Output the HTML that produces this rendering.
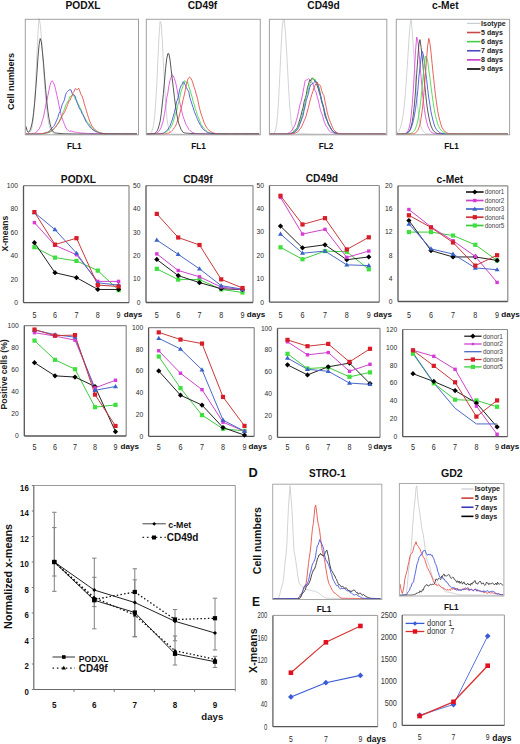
<!DOCTYPE html>
<html><head><meta charset="utf-8"><style>
html,body{margin:0;padding:0;background:#fff;}
svg{display:block;}
text{font-family:"Liberation Sans",sans-serif;}
</style></head><body>
<svg width="520" height="744" viewBox="0 0 520 744">
<rect x="0" y="0" width="520" height="744" fill="#fff"/>
<text x="83.00" y="8.90" font-size="10.2" text-anchor="middle" font-weight="bold" fill="#111" >PODXL</text>
<text x="74.30" y="148.50" font-size="8.2" text-anchor="middle" font-weight="bold" fill="#111" >FL1</text>
<text x="202.50" y="8.90" font-size="10.2" text-anchor="middle" font-weight="bold" fill="#111" >CD49f</text>
<text x="198.60" y="148.50" font-size="8.2" text-anchor="middle" font-weight="bold" fill="#111" >FL1</text>
<text x="323.50" y="8.90" font-size="10.2" text-anchor="middle" font-weight="bold" fill="#111" >CD49d</text>
<text x="326.00" y="148.50" font-size="8.2" text-anchor="middle" font-weight="bold" fill="#111" >FL2</text>
<text x="445.30" y="8.90" font-size="10.2" text-anchor="middle" font-weight="bold" fill="#111" >c-Met</text>
<text x="451.50" y="148.50" font-size="8.2" text-anchor="middle" font-weight="bold" fill="#111" >FL1</text>
<polyline points="25.90,134.08 27.00,134.04 28.10,133.90 29.20,133.51 30.30,132.51 31.40,130.13 32.50,125.42 33.60,116.30 34.70,101.59 35.80,80.33 36.90,55.24 38.00,31.84 39.10,18.45 40.20,24.01 41.30,36.07 42.40,52.07 43.50,68.45 44.60,84.68 45.70,99.04 46.80,110.43 47.90,118.95 49.00,124.74 50.10,128.65 51.20,130.95 52.30,132.43 53.40,133.24 54.50,133.67 55.60,133.90 56.70,134.01 57.80,134.06 58.90,134.08 60.00,134.09 61.10,134.10 62.20,134.10 63.30,134.10 64.40,134.10 65.50,134.10 66.60,134.10 67.70,134.10 68.80,134.10 69.90,134.10 71.00,134.10 72.10,134.10 73.20,134.10 74.30,134.10 75.40,134.10 76.50,134.10 77.60,134.10 78.70,134.10 79.80,134.10 80.90,134.10 82.00,134.10 83.10,134.10 84.20,134.10 85.30,134.10 86.40,134.10 87.50,134.10 88.60,134.10 89.70,134.10 90.80,134.10 91.90,134.10 93.00,134.10 94.10,134.10 95.20,134.10 96.30,134.10 97.40,134.10 98.50,134.10 99.60,134.10 100.70,134.10 101.80,134.10 102.90,134.10 104.00,134.10 105.10,134.10 106.20,134.10 107.30,134.10 108.40,134.10 109.50,134.10 110.60,134.10 111.70,134.10 112.80,134.10 113.90,134.10 115.00,134.10 116.10,134.10 117.20,134.10 118.30,134.10 119.40,134.10 120.50,134.10 121.60,134.10 122.70,134.10 123.80,134.10 124.90,134.10 126.00,134.10 127.10,134.10 128.20,134.10 129.30,134.10 130.40,134.10 131.50,134.10 132.60,134.10 133.70,134.10 134.80,134.10 135.90,134.10 137.00,134.10" fill="none" stroke="#c4c8cc" stroke-width="0.8" stroke-linejoin="round" />
<polyline points="25.90,134.09 27.00,134.08 28.10,134.06 29.20,134.02 30.30,133.96 31.40,133.87 32.50,133.71 33.60,133.47 34.70,133.09 35.80,132.52 36.90,131.47 38.00,130.49 39.10,128.94 40.20,126.78 41.30,124.65 42.40,120.41 43.50,117.11 44.60,111.15 45.70,105.70 46.80,100.82 47.90,95.58 49.00,90.10 50.10,85.13 51.20,81.74 52.30,80.73 53.40,82.60 54.50,85.10 55.60,89.48 56.70,94.54 57.80,99.31 58.90,104.90 60.00,109.78 61.10,115.07 62.20,118.36 63.30,121.41 64.40,124.31 65.50,126.83 66.60,129.01 67.70,130.21 68.80,130.84 69.90,131.45 71.00,130.90 72.10,131.28 73.20,131.78 74.30,132.06 75.40,132.23 76.50,132.29 77.60,132.59 78.70,132.70 79.80,132.71 80.90,133.18 82.00,133.09 83.10,133.09 84.20,133.18 85.30,133.26 86.40,133.33 87.50,133.40 88.60,133.46 89.70,133.52 90.80,133.57 91.90,133.61 93.00,133.66 94.10,133.70 95.20,133.73 96.30,133.76 97.40,133.79 98.50,133.82 99.60,133.84 100.70,133.87 101.80,133.89 102.90,133.91 104.00,133.92 105.10,133.94 106.20,133.95 107.30,133.97 108.40,133.98 109.50,133.99 110.60,134.00 111.70,134.01 112.80,134.01 113.90,134.02 115.00,134.03 116.10,134.04 117.20,134.04 118.30,134.05 119.40,134.05 120.50,134.06 121.60,134.06 122.70,134.06 123.80,134.07 124.90,134.07 126.00,134.07 127.10,134.07 128.20,134.08 129.30,134.08 130.40,134.08 131.50,134.08 132.60,134.08 133.70,134.09 134.80,134.09 135.90,134.09 137.00,134.09" fill="none" stroke="#da50da" stroke-width="0.9" stroke-linejoin="round" />
<polyline points="25.90,134.10 27.00,134.10 28.10,134.10 29.20,134.10 30.30,134.10 31.40,134.10 32.50,134.09 33.60,134.09 34.70,134.08 35.80,134.08 36.90,134.06 38.00,134.05 39.10,134.02 40.20,133.99 41.30,133.94 42.40,133.87 43.50,133.77 44.60,133.65 45.70,133.47 46.80,133.27 47.90,132.86 49.00,132.69 50.10,132.12 51.20,131.49 52.30,131.00 53.40,129.75 54.50,127.98 55.60,127.00 56.70,124.98 57.80,123.99 58.90,121.92 60.00,119.21 61.10,116.87 62.20,114.64 63.30,111.53 64.40,109.32 65.50,105.80 66.60,103.66 67.70,101.65 68.80,99.77 69.90,96.64 71.00,96.52 72.10,94.69 73.20,95.57 74.30,96.11 75.40,99.59 76.50,100.18 77.60,102.76 78.70,104.91 79.80,107.27 80.90,109.26 82.00,111.97 83.10,115.11 84.20,116.54 85.30,118.70 86.40,120.84 87.50,122.17 88.60,123.33 89.70,125.01 90.80,126.91 91.90,127.37 93.00,128.59 94.10,129.93 95.20,130.71 96.30,131.19 97.40,131.86 98.50,132.22 99.60,132.40 100.70,132.64 101.80,133.02 102.90,133.34 104.00,133.51 105.10,133.64 106.20,133.75 107.30,133.83 108.40,133.90 109.50,133.95 110.60,133.99 111.70,134.02 112.80,134.04 113.90,134.05 115.00,134.07 116.10,134.08 117.20,134.08 118.30,134.09 119.40,134.09 120.50,134.09 121.60,134.10 122.70,134.10 123.80,134.10 124.90,134.10 126.00,134.10 127.10,134.10 128.20,134.10 129.30,134.10 130.40,134.10 131.50,134.10 132.60,134.10 133.70,134.10 134.80,134.10 135.90,134.10 137.00,134.10" fill="none" stroke="#4cd84c" stroke-width="0.9" stroke-linejoin="round" />
<polyline points="25.90,134.10 27.00,134.10 28.10,134.10 29.20,134.10 30.30,134.09 31.40,134.09 32.50,134.08 33.60,134.07 34.70,134.06 35.80,134.04 36.90,134.01 38.00,133.97 39.10,133.92 40.20,133.84 41.30,133.74 42.40,133.59 43.50,133.40 44.60,133.17 45.70,132.70 46.80,132.22 47.90,132.25 49.00,131.45 50.10,130.47 51.20,128.56 52.30,127.93 53.40,126.52 54.50,125.19 55.60,122.77 56.70,120.13 57.80,117.70 58.90,113.61 60.00,111.81 61.10,108.47 62.20,104.49 63.30,102.38 64.40,99.86 65.50,94.85 66.60,92.47 67.70,91.33 68.80,90.27 69.90,89.72 71.00,89.91 72.10,93.39 73.20,94.66 74.30,94.96 75.40,96.82 76.50,101.30 77.60,103.77 78.70,106.89 79.80,108.98 80.90,110.51 82.00,113.46 83.10,114.73 84.20,117.50 85.30,120.01 86.40,122.24 87.50,123.54 88.60,125.25 89.70,126.84 90.80,128.05 91.90,129.16 93.00,129.95 94.10,130.58 95.20,131.43 96.30,131.86 97.40,132.16 98.50,132.54 99.60,132.94 100.70,133.19 101.80,133.40 102.90,133.56 104.00,133.69 105.10,133.78 106.20,133.86 107.30,133.92 108.40,133.97 109.50,134.00 110.60,134.03 111.70,134.05 112.80,134.06 113.90,134.07 115.00,134.08 116.10,134.09 117.20,134.09 118.30,134.09 119.40,134.09 120.50,134.10 121.60,134.10 122.70,134.10 123.80,134.10 124.90,134.10 126.00,134.10 127.10,134.10 128.20,134.10 129.30,134.10 130.40,134.10 131.50,134.10 132.60,134.10 133.70,134.10 134.80,134.10 135.90,134.10 137.00,134.10" fill="none" stroke="#4656da" stroke-width="0.9" stroke-linejoin="round" />
<polyline points="25.90,134.09 27.00,134.09 28.10,134.08 29.20,134.08 30.30,134.07 31.40,134.06 32.50,134.05 33.60,134.03 34.70,134.00 35.80,133.97 36.90,133.93 38.00,133.88 39.10,133.82 40.20,133.73 41.30,133.63 42.40,133.49 43.50,133.33 44.60,133.12 45.70,132.92 46.80,132.74 47.90,132.37 49.00,131.80 50.10,131.41 51.20,130.77 52.30,129.97 53.40,129.07 54.50,127.99 55.60,127.13 56.70,125.35 57.80,123.93 58.90,122.57 60.00,120.23 61.10,118.61 62.20,115.81 63.30,114.05 64.40,112.45 65.50,110.17 66.60,107.31 67.70,104.55 68.80,101.16 69.90,100.65 71.00,97.78 72.10,95.88 73.20,92.49 74.30,91.02 75.40,88.46 76.50,89.34 77.60,89.51 78.70,88.24 79.80,91.09 80.90,94.37 82.00,95.92 83.10,99.11 84.20,103.26 85.30,107.35 86.40,110.61 87.50,114.74 88.60,118.10 89.70,121.11 90.80,123.62 91.90,126.02 93.00,127.71 94.10,128.49 95.20,129.83 96.30,130.73 97.40,131.53 98.50,132.32 99.60,132.83 100.70,133.24 101.80,133.45 102.90,133.65 104.00,133.78 105.10,133.88 106.20,133.95 107.30,134.00 108.40,134.04 109.50,134.06 110.60,134.07 111.70,134.08 112.80,134.09 113.90,134.09 115.00,134.10 116.10,134.10 117.20,134.10 118.30,134.10 119.40,134.10 120.50,134.10 121.60,134.10 122.70,134.10 123.80,134.10 124.90,134.10 126.00,134.10 127.10,134.10 128.20,134.10 129.30,134.10 130.40,134.10 131.50,134.10 132.60,134.10 133.70,134.10 134.80,134.10 135.90,134.10 137.00,134.10" fill="none" stroke="#e65048" stroke-width="0.9" stroke-linejoin="round" />
<polyline points="25.90,126.21 27.00,130.36 28.10,132.32 29.20,131.66 30.30,129.62 31.40,126.00 32.50,121.07 33.60,112.66 34.70,102.21 35.80,88.52 36.90,73.70 38.00,56.85 39.10,44.67 40.20,38.56 41.30,41.59 42.40,51.41 43.50,62.78 44.60,76.63 45.70,89.71 46.80,101.53 47.90,111.15 49.00,118.52 50.10,124.16 51.20,127.75 52.30,130.53 53.40,131.93 54.50,132.78 55.60,132.95 56.70,133.10 57.80,133.23 58.90,133.34 60.00,133.44 61.10,133.52 62.20,133.60 63.30,133.66 64.40,133.72 65.50,133.77 66.60,133.81 67.70,133.85 68.80,133.88 69.90,133.91 71.00,133.93 72.10,133.95 73.20,133.97 74.30,133.99 75.40,134.00 76.50,134.02 77.60,134.03 78.70,134.04 79.80,134.04 80.90,134.05 82.00,134.06 83.10,134.06 84.20,134.07 85.30,134.07 86.40,134.08 87.50,134.08 88.60,134.08 89.70,134.08 90.80,134.09 91.90,134.09 93.00,134.09 94.10,134.09 95.20,134.09 96.30,134.09 97.40,134.09 98.50,134.09 99.60,134.10 100.70,134.10 101.80,134.10 102.90,134.10 104.00,134.10 105.10,134.10 106.20,134.10 107.30,134.10 108.40,134.10 109.50,134.10 110.60,134.10 111.70,134.10 112.80,134.10 113.90,134.10 115.00,134.10 116.10,134.10 117.20,134.10 118.30,134.10 119.40,134.10 120.50,134.10 121.60,134.10 122.70,134.10 123.80,134.10 124.90,134.10 126.00,134.10 127.10,134.10 128.20,134.10 129.30,134.10 130.40,134.10 131.50,134.10 132.60,134.10 133.70,134.10 134.80,134.10 135.90,134.10 137.00,134.10" fill="none" stroke="#444" stroke-width="0.9" stroke-linejoin="round" />
<polyline points="146.90,134.08 148.00,134.03 149.10,133.88 150.20,133.47 151.30,132.47 152.40,130.08 153.50,125.54 154.60,116.91 155.70,103.03 156.80,83.86 157.90,59.62 159.00,36.59 160.10,21.24 161.20,23.45 162.30,40.16 163.40,62.26 164.50,83.95 165.60,102.66 166.70,116.04 167.80,124.39 168.90,129.35 170.00,131.95 171.10,133.20 172.20,133.75 173.30,133.97 174.40,134.06 175.50,134.09 176.60,134.10 177.70,134.10 178.80,134.10 179.90,134.10 181.00,134.10 182.10,134.10 183.20,134.10 184.30,134.10 185.40,134.10 186.50,134.10 187.60,134.10 188.70,134.10 189.80,134.10 190.90,134.10 192.00,134.10 193.10,134.10 194.20,134.10 195.30,134.10 196.40,134.10 197.50,134.10 198.60,134.10 199.70,134.10 200.80,134.10 201.90,134.10 203.00,134.10 204.10,134.10 205.20,134.10 206.30,134.10 207.40,134.10 208.50,134.10 209.60,134.10 210.70,134.10 211.80,134.10 212.90,134.10 214.00,134.10 215.10,134.10 216.20,134.10 217.30,134.10 218.40,134.10 219.50,134.10 220.60,134.10 221.70,134.10 222.80,134.10 223.90,134.10 225.00,134.10 226.10,134.10 227.20,134.10 228.30,134.10 229.40,134.10 230.50,134.10 231.60,134.10 232.70,134.10 233.80,134.10 234.90,134.10 236.00,134.10 237.10,134.10 238.20,134.10 239.30,134.10 240.40,134.10 241.50,134.10 242.60,134.10 243.70,134.10 244.80,134.10 245.90,134.10 247.00,134.10 248.10,134.10 249.20,134.10 250.30,134.10 251.40,134.10 252.50,134.10 253.60,134.10 254.70,134.10 255.80,134.10 256.90,134.10 258.00,134.10 259.10,134.10" fill="none" stroke="#c4c8cc" stroke-width="0.8" stroke-linejoin="round" />
<polyline points="146.90,134.10 148.00,134.09 149.10,134.08 150.20,134.07 151.30,134.04 152.40,133.98 153.50,133.88 154.60,133.71 155.70,133.41 156.80,132.93 157.90,132.62 159.00,131.17 160.10,129.41 161.20,127.21 162.30,123.83 163.40,120.13 164.50,113.53 165.60,107.32 166.70,98.14 167.80,93.14 168.90,85.56 170.00,80.41 171.10,77.54 172.20,74.82 173.30,75.83 174.40,78.46 175.50,82.10 176.60,86.90 177.70,92.97 178.80,97.92 179.90,103.02 181.00,107.74 182.10,112.81 183.20,116.69 184.30,119.87 185.40,123.14 186.50,125.39 187.60,127.10 188.70,129.41 189.80,130.55 190.90,131.24 192.00,132.30 193.10,132.79 194.20,133.14 195.30,133.44 196.40,133.58 197.50,133.64 198.60,133.69 199.70,133.73 200.80,133.77 201.90,133.80 203.00,133.83 204.10,133.86 205.20,133.89 206.30,133.91 207.40,133.93 208.50,133.95 209.60,133.96 210.70,133.98 211.80,133.99 212.90,134.00 214.00,134.01 215.10,134.02 216.20,134.03 217.30,134.04 218.40,134.04 219.50,134.05 220.60,134.05 221.70,134.06 222.80,134.06 223.90,134.07 225.00,134.07 226.10,134.07 227.20,134.08 228.30,134.08 229.40,134.08 230.50,134.08 231.60,134.08 232.70,134.09 233.80,134.09 234.90,134.09 236.00,134.09 237.10,134.09 238.20,134.09 239.30,134.09 240.40,134.09 241.50,134.09 242.60,134.09 243.70,134.10 244.80,134.10 245.90,134.10 247.00,134.10 248.10,134.10 249.20,134.10 250.30,134.10 251.40,134.10 252.50,134.10 253.60,134.10 254.70,134.10 255.80,134.10 256.90,134.10 258.00,134.10 259.10,134.10" fill="none" stroke="#da50da" stroke-width="0.9" stroke-linejoin="round" />
<polyline points="146.90,134.10 148.00,134.10 149.10,134.10 150.20,134.10 151.30,134.09 152.40,134.09 153.50,134.08 154.60,134.07 155.70,134.05 156.80,134.02 157.90,133.98 159.00,133.92 160.10,133.83 161.20,133.69 162.30,133.50 163.40,133.22 164.50,132.69 165.60,132.22 166.70,131.60 167.80,130.56 168.90,129.53 170.00,128.33 171.10,126.75 172.20,124.85 173.30,121.08 174.40,117.85 175.50,112.94 176.60,111.47 177.70,105.87 178.80,101.56 179.90,97.48 181.00,91.48 182.10,88.73 183.20,85.12 184.30,80.77 185.40,81.27 186.50,83.00 187.60,81.81 188.70,86.35 189.80,89.25 190.90,92.98 192.00,96.79 193.10,101.42 194.20,104.27 195.30,108.70 196.40,111.56 197.50,115.51 198.60,117.79 199.70,120.78 200.80,124.08 201.90,125.70 203.00,127.13 204.10,128.22 205.20,129.51 206.30,130.78 207.40,131.78 208.50,132.31 209.60,132.78 210.70,133.05 211.80,133.33 212.90,133.54 214.00,133.70 215.10,133.82 216.20,133.90 217.30,133.96 218.40,134.01 219.50,134.04 220.60,134.06 221.70,134.07 222.80,134.08 223.90,134.09 225.00,134.09 226.10,134.09 227.20,134.10 228.30,134.10 229.40,134.10 230.50,134.10 231.60,134.10 232.70,134.10 233.80,134.10 234.90,134.10 236.00,134.10 237.10,134.10 238.20,134.10 239.30,134.10 240.40,134.10 241.50,134.10 242.60,134.10 243.70,134.10 244.80,134.10 245.90,134.10 247.00,134.10 248.10,134.10 249.20,134.10 250.30,134.10 251.40,134.10 252.50,134.10 253.60,134.10 254.70,134.10 255.80,134.10 256.90,134.10 258.00,134.10 259.10,134.10" fill="none" stroke="#4cd84c" stroke-width="0.9" stroke-linejoin="round" />
<polyline points="146.90,134.10 148.00,134.10 149.10,134.10 150.20,134.10 151.30,134.09 152.40,134.09 153.50,134.08 154.60,134.07 155.70,134.05 156.80,134.01 157.90,133.96 159.00,133.88 160.10,133.75 161.20,133.57 162.30,133.30 163.40,133.32 164.50,132.32 165.60,131.58 166.70,130.68 167.80,129.68 168.90,127.67 170.00,126.13 171.10,122.87 172.20,120.14 173.30,116.19 174.40,112.46 175.50,107.46 176.60,101.84 177.70,98.95 178.80,94.01 179.90,88.88 181.00,85.87 182.10,84.31 183.20,81.63 184.30,82.89 185.40,85.28 186.50,87.73 187.60,89.81 188.70,91.35 189.80,97.47 190.90,100.81 192.00,104.15 193.10,107.46 194.20,111.20 195.30,114.03 196.40,116.59 197.50,119.38 198.60,121.89 199.70,124.01 200.80,125.63 201.90,127.82 203.00,128.59 204.10,130.17 205.20,130.70 206.30,131.68 207.40,132.49 208.50,132.75 209.60,132.93 210.70,133.30 211.80,133.51 212.90,133.67 214.00,133.79 215.10,133.87 216.20,133.94 217.30,133.99 218.40,134.02 219.50,134.05 220.60,134.06 221.70,134.07 222.80,134.08 223.90,134.09 225.00,134.09 226.10,134.10 227.20,134.10 228.30,134.10 229.40,134.10 230.50,134.10 231.60,134.10 232.70,134.10 233.80,134.10 234.90,134.10 236.00,134.10 237.10,134.10 238.20,134.10 239.30,134.10 240.40,134.10 241.50,134.10 242.60,134.10 243.70,134.10 244.80,134.10 245.90,134.10 247.00,134.10 248.10,134.10 249.20,134.10 250.30,134.10 251.40,134.10 252.50,134.10 253.60,134.10 254.70,134.10 255.80,134.10 256.90,134.10 258.00,134.10 259.10,134.10" fill="none" stroke="#4656da" stroke-width="0.9" stroke-linejoin="round" />
<polyline points="146.90,134.10 148.00,134.10 149.10,134.10 150.20,134.10 151.30,134.10 152.40,134.10 153.50,134.10 154.60,134.10 155.70,134.09 156.80,134.09 157.90,134.08 159.00,134.07 160.10,134.05 161.20,134.02 162.30,133.97 163.40,133.91 164.50,133.81 165.60,133.66 166.70,133.46 167.80,133.17 168.90,133.06 170.00,132.60 171.10,131.45 172.20,130.35 173.30,129.30 174.40,127.49 175.50,126.13 176.60,123.40 177.70,120.02 178.80,117.66 179.90,113.12 181.00,109.15 182.10,104.47 183.20,99.42 184.30,94.94 185.40,89.52 186.50,84.09 187.60,79.86 188.70,77.84 189.80,77.08 190.90,78.40 192.00,80.54 193.10,83.90 194.20,87.24 195.30,90.60 196.40,94.96 197.50,98.52 198.60,104.11 199.70,108.96 200.80,113.03 201.90,116.30 203.00,119.42 204.10,122.64 205.20,124.74 206.30,126.92 207.40,128.54 208.50,129.76 209.60,131.04 210.70,131.54 211.80,132.19 212.90,132.63 214.00,133.13 215.10,133.41 216.20,133.62 217.30,133.76 218.40,133.87 219.50,133.94 220.60,134.00 221.70,134.03 222.80,134.05 223.90,134.07 225.00,134.08 226.10,134.09 227.20,134.09 228.30,134.10 229.40,134.10 230.50,134.10 231.60,134.10 232.70,134.10 233.80,134.10 234.90,134.10 236.00,134.10 237.10,134.10 238.20,134.10 239.30,134.10 240.40,134.10 241.50,134.10 242.60,134.10 243.70,134.10 244.80,134.10 245.90,134.10 247.00,134.10 248.10,134.10 249.20,134.10 250.30,134.10 251.40,134.10 252.50,134.10 253.60,134.10 254.70,134.10 255.80,134.10 256.90,134.10 258.00,134.10 259.10,134.10" fill="none" stroke="#e65048" stroke-width="0.9" stroke-linejoin="round" />
<polyline points="146.90,134.10 148.00,134.09 149.10,134.09 150.20,134.07 151.30,134.02 152.40,133.92 153.50,133.73 154.60,133.34 155.70,132.63 156.80,131.40 157.90,129.34 159.00,125.75 160.10,121.43 161.20,113.89 162.30,103.98 163.40,93.52 164.50,80.97 165.60,68.51 166.70,58.78 167.80,53.64 168.90,53.69 170.00,59.84 171.10,69.25 172.20,78.41 173.30,87.69 174.40,97.27 175.50,105.71 176.60,113.02 177.70,119.23 178.80,123.58 179.90,126.39 181.00,129.34 182.10,130.98 183.20,132.33 184.30,132.82 185.40,132.98 186.50,133.13 187.60,133.25 188.70,133.36 189.80,133.45 190.90,133.54 192.00,133.61 193.10,133.67 194.20,133.73 195.30,133.78 196.40,133.82 197.50,133.85 198.60,133.89 199.70,133.91 200.80,133.94 201.90,133.96 203.00,133.98 204.10,133.99 205.20,134.01 206.30,134.02 207.40,134.03 208.50,134.04 209.60,134.05 210.70,134.05 211.80,134.06 212.90,134.06 214.00,134.07 215.10,134.07 216.20,134.08 217.30,134.08 218.40,134.08 219.50,134.08 220.60,134.09 221.70,134.09 222.80,134.09 223.90,134.09 225.00,134.09 226.10,134.09 227.20,134.09 228.30,134.09 229.40,134.10 230.50,134.10 231.60,134.10 232.70,134.10 233.80,134.10 234.90,134.10 236.00,134.10 237.10,134.10 238.20,134.10 239.30,134.10 240.40,134.10 241.50,134.10 242.60,134.10 243.70,134.10 244.80,134.10 245.90,134.10 247.00,134.10 248.10,134.10 249.20,134.10 250.30,134.10 251.40,134.10 252.50,134.10 253.60,134.10 254.70,134.10 255.80,134.10 256.90,134.10 258.00,134.10 259.10,134.10" fill="none" stroke="#444" stroke-width="0.9" stroke-linejoin="round" />
<polyline points="270.00,134.10 271.10,134.08 272.20,134.00 273.30,133.72 274.40,132.81 275.50,130.33 276.60,124.79 277.70,113.92 278.80,96.67 279.90,73.29 281.00,48.96 282.10,28.86 283.20,19.62 284.30,19.92 285.40,32.05 286.50,49.34 287.60,69.48 288.70,90.26 289.80,107.11 290.90,119.16 292.00,126.35 293.10,130.75 294.20,132.59 295.30,132.78 296.40,132.95 297.50,133.10 298.60,133.23 299.70,133.34 300.80,133.44 301.90,133.52 303.00,133.60 304.10,133.66 305.20,133.72 306.30,133.77 307.40,133.81 308.50,133.85 309.60,133.88 310.70,133.91 311.80,133.93 312.90,133.95 314.00,133.97 315.10,133.99 316.20,134.00 317.30,134.02 318.40,134.03 319.50,134.04 320.60,134.04 321.70,134.05 322.80,134.06 323.90,134.06 325.00,134.07 326.10,134.07 327.20,134.08 328.30,134.08 329.40,134.08 330.50,134.08 331.60,134.09 332.70,134.09 333.80,134.09 334.90,134.09 336.00,134.09 337.10,134.09 338.20,134.09 339.30,134.09 340.40,134.10 341.50,134.10 342.60,134.10 343.70,134.10 344.80,134.10 345.90,134.10 347.00,134.10 348.10,134.10 349.20,134.10 350.30,134.10 351.40,134.10 352.50,134.10 353.60,134.10 354.70,134.10 355.80,134.10 356.90,134.10 358.00,134.10 359.10,134.10 360.20,134.10 361.30,134.10 362.40,134.10 363.50,134.10 364.60,134.10 365.70,134.10 366.80,134.10 367.90,134.10 369.00,134.10 370.10,134.10 371.20,134.10 372.30,134.10 373.40,134.10 374.50,134.10 375.60,134.10 376.70,134.10 377.80,134.10 378.90,134.10 380.00,134.10 381.10,134.10 382.20,134.10 383.30,134.10 384.40,134.10 385.50,134.10" fill="none" stroke="#c4c8cc" stroke-width="0.8" stroke-linejoin="round" />
<polyline points="270.00,134.10 271.10,134.10 272.20,134.10 273.30,134.10 274.40,134.10 275.50,134.10 276.60,134.10 277.70,134.10 278.80,134.09 279.90,134.09 281.00,134.08 282.10,134.06 283.20,134.03 284.30,133.97 285.40,133.87 286.50,133.71 287.60,133.46 288.70,133.07 289.80,132.57 290.90,131.31 292.00,130.22 293.10,128.59 294.20,126.27 295.30,124.12 296.40,120.33 297.50,116.25 298.60,111.46 299.70,105.63 300.80,102.17 301.90,97.94 303.00,92.12 304.10,86.29 305.20,80.45 306.30,80.04 307.40,79.89 308.50,78.65 309.60,79.43 310.70,81.06 311.80,82.49 312.90,83.23 314.00,87.35 315.10,90.77 316.20,92.54 317.30,97.28 318.40,100.82 319.50,105.92 320.60,110.60 321.70,113.44 322.80,116.22 323.90,121.03 325.00,123.55 326.10,126.25 327.20,127.17 328.30,129.38 329.40,130.98 330.50,131.93 331.60,132.19 332.70,132.76 333.80,133.13 334.90,133.44 336.00,133.66 337.10,133.81 338.20,133.91 339.30,133.98 340.40,134.02 341.50,134.05 342.60,134.07 343.70,134.08 344.80,134.09 345.90,134.09 347.00,134.10 348.10,134.10 349.20,134.10 350.30,134.10 351.40,134.10 352.50,134.10 353.60,134.10 354.70,134.10 355.80,134.10 356.90,134.10 358.00,134.10 359.10,134.10 360.20,134.10 361.30,134.10 362.40,134.10 363.50,134.10 364.60,134.10 365.70,134.10 366.80,134.10 367.90,134.10 369.00,134.10 370.10,134.10 371.20,134.10 372.30,134.10 373.40,134.10 374.50,134.10 375.60,134.10 376.70,134.10 377.80,134.10 378.90,134.10 380.00,134.10 381.10,134.10 382.20,134.10 383.30,134.10 384.40,134.10 385.50,134.10" fill="none" stroke="#da50da" stroke-width="0.9" stroke-linejoin="round" />
<polyline points="270.00,134.10 271.10,134.10 272.20,134.10 273.30,134.10 274.40,134.10 275.50,134.10 276.60,134.10 277.70,134.10 278.80,134.10 279.90,134.10 281.00,134.10 282.10,134.09 283.20,134.08 284.30,134.07 285.40,134.04 286.50,133.99 287.60,133.92 288.70,133.80 289.80,133.60 290.90,133.31 292.00,132.87 293.10,132.32 294.20,131.70 295.30,129.93 296.40,128.80 297.50,127.20 298.60,123.39 299.70,120.01 300.80,116.22 301.90,111.40 303.00,108.17 304.10,101.84 305.20,98.42 306.30,94.80 307.40,87.81 308.50,84.63 309.60,80.11 310.70,80.44 311.80,78.29 312.90,78.43 314.00,79.44 315.10,81.45 316.20,82.87 317.30,85.99 318.40,89.03 319.50,93.51 320.60,96.78 321.70,102.03 322.80,105.08 323.90,110.13 325.00,115.72 326.10,118.45 327.20,120.78 328.30,124.10 329.40,126.00 330.50,127.63 331.60,129.44 332.70,131.07 333.80,131.95 334.90,132.52 336.00,133.02 337.10,133.37 338.20,133.62 339.30,133.79 340.40,133.90 341.50,133.98 342.60,134.03 343.70,134.06 344.80,134.07 345.90,134.09 347.00,134.09 348.10,134.10 349.20,134.10 350.30,134.10 351.40,134.10 352.50,134.10 353.60,134.10 354.70,134.10 355.80,134.10 356.90,134.10 358.00,134.10 359.10,134.10 360.20,134.10 361.30,134.10 362.40,134.10 363.50,134.10 364.60,134.10 365.70,134.10 366.80,134.10 367.90,134.10 369.00,134.10 370.10,134.10 371.20,134.10 372.30,134.10 373.40,134.10 374.50,134.10 375.60,134.10 376.70,134.10 377.80,134.10 378.90,134.10 380.00,134.10 381.10,134.10 382.20,134.10 383.30,134.10 384.40,134.10 385.50,134.10" fill="none" stroke="#444" stroke-width="0.9" stroke-linejoin="round" />
<polyline points="270.00,134.10 271.10,134.10 272.20,134.10 273.30,134.10 274.40,134.10 275.50,134.10 276.60,134.10 277.70,134.10 278.80,134.10 279.90,134.10 281.00,134.10 282.10,134.09 283.20,134.09 284.30,134.08 285.40,134.06 286.50,134.03 287.60,133.98 288.70,133.90 289.80,133.77 290.90,133.56 292.00,133.24 293.10,132.43 294.20,131.90 295.30,130.91 296.40,130.02 297.50,127.66 298.60,125.59 299.70,123.06 300.80,119.80 301.90,116.77 303.00,111.78 304.10,107.93 305.20,101.36 306.30,95.67 307.40,93.37 308.50,88.86 309.60,85.18 310.70,81.95 311.80,80.33 312.90,77.74 314.00,79.66 315.10,79.34 316.20,82.34 317.30,84.20 318.40,85.33 319.50,89.46 320.60,95.93 321.70,99.75 322.80,103.98 323.90,108.85 325.00,112.69 326.10,116.44 327.20,120.22 328.30,123.28 329.40,126.35 330.50,127.91 331.60,130.03 332.70,131.29 333.80,132.18 334.90,132.71 336.00,133.04 337.10,133.35 338.20,133.62 339.30,133.79 340.40,133.91 341.50,133.98 342.60,134.03 343.70,134.06 344.80,134.08 345.90,134.09 347.00,134.09 348.10,134.10 349.20,134.10 350.30,134.10 351.40,134.10 352.50,134.10 353.60,134.10 354.70,134.10 355.80,134.10 356.90,134.10 358.00,134.10 359.10,134.10 360.20,134.10 361.30,134.10 362.40,134.10 363.50,134.10 364.60,134.10 365.70,134.10 366.80,134.10 367.90,134.10 369.00,134.10 370.10,134.10 371.20,134.10 372.30,134.10 373.40,134.10 374.50,134.10 375.60,134.10 376.70,134.10 377.80,134.10 378.90,134.10 380.00,134.10 381.10,134.10 382.20,134.10 383.30,134.10 384.40,134.10 385.50,134.10" fill="none" stroke="#4cd84c" stroke-width="0.9" stroke-linejoin="round" />
<polyline points="270.00,134.10 271.10,134.10 272.20,134.10 273.30,134.10 274.40,134.10 275.50,134.10 276.60,134.10 277.70,134.10 278.80,134.10 279.90,134.10 281.00,134.10 282.10,134.10 283.20,134.09 284.30,134.08 285.40,134.07 286.50,134.04 287.60,134.00 288.70,133.93 289.80,133.82 290.90,133.65 292.00,133.39 293.10,133.06 294.20,132.61 295.30,131.29 296.40,130.98 297.50,129.43 298.60,127.70 299.70,124.39 300.80,121.82 301.90,118.75 303.00,115.88 304.10,110.29 305.20,105.85 306.30,100.29 307.40,96.92 308.50,93.35 309.60,87.73 310.70,85.12 311.80,83.87 312.90,83.64 314.00,82.33 315.10,81.40 316.20,81.37 317.30,83.41 318.40,86.55 319.50,90.94 320.60,95.04 321.70,100.92 322.80,104.65 323.90,108.07 325.00,113.94 326.10,117.76 327.20,120.78 328.30,123.35 329.40,125.40 330.50,127.77 331.60,130.06 332.70,130.96 333.80,131.76 334.90,132.70 336.00,133.19 337.10,133.52 338.20,133.74 339.30,133.88 340.40,133.97 341.50,134.02 342.60,134.06 343.70,134.08 344.80,134.09 345.90,134.09 347.00,134.10 348.10,134.10 349.20,134.10 350.30,134.10 351.40,134.10 352.50,134.10 353.60,134.10 354.70,134.10 355.80,134.10 356.90,134.10 358.00,134.10 359.10,134.10 360.20,134.10 361.30,134.10 362.40,134.10 363.50,134.10 364.60,134.10 365.70,134.10 366.80,134.10 367.90,134.10 369.00,134.10 370.10,134.10 371.20,134.10 372.30,134.10 373.40,134.10 374.50,134.10 375.60,134.10 376.70,134.10 377.80,134.10 378.90,134.10 380.00,134.10 381.10,134.10 382.20,134.10 383.30,134.10 384.40,134.10 385.50,134.10" fill="none" stroke="#4656da" stroke-width="0.9" stroke-linejoin="round" />
<polyline points="270.00,134.10 271.10,134.10 272.20,134.10 273.30,134.10 274.40,134.10 275.50,134.10 276.60,134.10 277.70,134.10 278.80,134.10 279.90,134.10 281.00,134.10 282.10,134.10 283.20,134.10 284.30,134.09 285.40,134.09 286.50,134.08 287.60,134.06 288.70,134.04 289.80,134.00 290.90,133.93 292.00,133.83 293.10,133.67 294.20,133.43 295.30,133.10 296.40,132.61 297.50,132.00 298.60,131.10 299.70,129.23 300.80,128.12 301.90,126.17 303.00,123.53 304.10,120.90 305.20,118.61 306.30,115.20 307.40,111.00 308.50,107.21 309.60,102.21 310.70,98.40 311.80,94.49 312.90,91.38 314.00,87.85 315.10,85.28 316.20,83.62 317.30,82.26 318.40,84.95 319.50,84.62 320.60,86.17 321.70,90.72 322.80,93.86 323.90,95.49 325.00,101.59 326.10,106.76 327.20,112.21 328.30,116.30 329.40,119.84 330.50,122.24 331.60,125.14 332.70,127.92 333.80,129.86 334.90,130.86 336.00,131.96 337.10,132.70 338.20,133.27 339.30,133.59 340.40,133.79 341.50,133.92 342.60,134.00 343.70,134.04 344.80,134.07 345.90,134.08 347.00,134.09 348.10,134.10 349.20,134.10 350.30,134.10 351.40,134.10 352.50,134.10 353.60,134.10 354.70,134.10 355.80,134.10 356.90,134.10 358.00,134.10 359.10,134.10 360.20,134.10 361.30,134.10 362.40,134.10 363.50,134.10 364.60,134.10 365.70,134.10 366.80,134.10 367.90,134.10 369.00,134.10 370.10,134.10 371.20,134.10 372.30,134.10 373.40,134.10 374.50,134.10 375.60,134.10 376.70,134.10 377.80,134.10 378.90,134.10 380.00,134.10 381.10,134.10 382.20,134.10 383.30,134.10 384.40,134.10 385.50,134.10" fill="none" stroke="#e65048" stroke-width="0.9" stroke-linejoin="round" />
<polyline points="396.90,132.94 398.00,132.06 399.10,130.68 400.20,128.29 401.30,124.70 402.40,119.50 403.50,112.30 404.60,102.59 405.70,89.32 406.80,73.49 407.90,56.40 409.00,38.94 410.10,23.98 411.20,19.77 412.30,31.50 413.40,48.47 414.50,65.53 415.60,82.09 416.70,96.72 417.80,107.67 418.90,116.47 420.00,122.69 421.10,126.88 422.20,129.59 423.30,131.47 424.40,132.59 425.50,133.26 426.60,133.64 427.70,133.85 428.80,133.97 429.90,134.04 431.00,134.07 432.10,134.08 433.20,134.09 434.30,134.10 435.40,134.10 436.50,134.10 437.60,134.10 438.70,134.10 439.80,134.10 440.90,134.10 442.00,134.10 443.10,134.10 444.20,134.10 445.30,134.10 446.40,134.10 447.50,134.10 448.60,134.10 449.70,134.10 450.80,134.10 451.90,134.10 453.00,134.10 454.10,134.10 455.20,134.10 456.30,134.10 457.40,134.10 458.50,134.10 459.60,134.10 460.70,134.10 461.80,134.10 462.90,134.10 464.00,134.10 465.10,134.10 466.20,134.10 467.30,134.10 468.40,134.10 469.50,134.10 470.60,134.10 471.70,134.10 472.80,134.10 473.90,134.10 475.00,134.10 476.10,134.10 477.20,134.10 478.30,134.10 479.40,134.10 480.50,134.10 481.60,134.10 482.70,134.10 483.80,134.10 484.90,134.10 486.00,134.10 487.10,134.10 488.20,134.10 489.30,134.10 490.40,134.10 491.50,134.10 492.60,134.10 493.70,134.10 494.80,134.10 495.90,134.10 497.00,134.10 498.10,134.10 499.20,134.10 500.30,134.10 501.40,134.10 502.50,134.10 503.60,134.10 504.70,134.10 505.80,134.10 506.90,134.10 508.00,134.10" fill="none" stroke="#c4c8cc" stroke-width="0.8" stroke-linejoin="round" />
<polyline points="396.90,134.10 398.00,134.10 399.10,134.10 400.20,134.09 401.30,134.08 402.40,134.04 403.50,133.95 404.60,133.76 405.70,133.35 406.80,132.53 407.90,131.05 409.00,128.18 410.10,123.75 411.20,115.38 412.30,103.91 413.40,88.87 414.50,69.42 415.60,50.12 416.70,36.99 417.80,40.86 418.90,50.72 420.00,64.34 421.10,77.63 422.20,89.69 423.30,101.05 424.40,109.26 425.50,116.70 426.60,121.64 427.70,125.83 428.80,128.23 429.90,130.47 431.00,131.79 432.10,132.69 433.20,133.24 434.30,133.59 435.40,133.80 436.50,133.93 437.60,134.01 438.70,134.05 439.80,134.07 440.90,134.09 442.00,134.09 443.10,134.10 444.20,134.10 445.30,134.10 446.40,134.10 447.50,134.10 448.60,134.10 449.70,134.10 450.80,134.10 451.90,134.10 453.00,134.10 454.10,134.10 455.20,134.10 456.30,134.10 457.40,134.10 458.50,134.10 459.60,134.10 460.70,134.10 461.80,134.10 462.90,134.10 464.00,134.10 465.10,134.10 466.20,134.10 467.30,134.10 468.40,134.10 469.50,134.10 470.60,134.10 471.70,134.10 472.80,134.10 473.90,134.10 475.00,134.10 476.10,134.10 477.20,134.10 478.30,134.10 479.40,134.10 480.50,134.10 481.60,134.10 482.70,134.10 483.80,134.10 484.90,134.10 486.00,134.10 487.10,134.10 488.20,134.10 489.30,134.10 490.40,134.10 491.50,134.10 492.60,134.10 493.70,134.10 494.80,134.10 495.90,134.10 497.00,134.10 498.10,134.10 499.20,134.10 500.30,134.10 501.40,134.10 502.50,134.10 503.60,134.10 504.70,134.10 505.80,134.10 506.90,134.10 508.00,134.10" fill="none" stroke="#da50da" stroke-width="0.9" stroke-linejoin="round" />
<polyline points="396.90,134.10 398.00,134.10 399.10,134.10 400.20,134.09 401.30,134.08 402.40,134.06 403.50,134.02 404.60,133.93 405.70,133.74 406.80,133.39 407.90,132.74 409.00,131.42 410.10,129.64 411.20,126.37 412.30,121.44 413.40,114.08 414.50,103.98 415.60,90.18 416.70,73.66 417.80,58.42 418.90,43.98 420.00,39.64 421.10,47.41 422.20,56.78 423.30,69.39 424.40,81.63 425.50,92.59 426.60,102.81 427.70,110.75 428.80,116.95 429.90,121.85 431.00,125.93 432.10,128.40 433.20,130.45 434.30,131.75 435.40,132.57 436.50,133.14 437.60,133.51 438.70,133.75 439.80,133.89 440.90,133.98 442.00,134.03 443.10,134.06 444.20,134.08 445.30,134.09 446.40,134.09 447.50,134.10 448.60,134.10 449.70,134.10 450.80,134.10 451.90,134.10 453.00,134.10 454.10,134.10 455.20,134.10 456.30,134.10 457.40,134.10 458.50,134.10 459.60,134.10 460.70,134.10 461.80,134.10 462.90,134.10 464.00,134.10 465.10,134.10 466.20,134.10 467.30,134.10 468.40,134.10 469.50,134.10 470.60,134.10 471.70,134.10 472.80,134.10 473.90,134.10 475.00,134.10 476.10,134.10 477.20,134.10 478.30,134.10 479.40,134.10 480.50,134.10 481.60,134.10 482.70,134.10 483.80,134.10 484.90,134.10 486.00,134.10 487.10,134.10 488.20,134.10 489.30,134.10 490.40,134.10 491.50,134.10 492.60,134.10 493.70,134.10 494.80,134.10 495.90,134.10 497.00,134.10 498.10,134.10 499.20,134.10 500.30,134.10 501.40,134.10 502.50,134.10 503.60,134.10 504.70,134.10 505.80,134.10 506.90,134.10 508.00,134.10" fill="none" stroke="#444" stroke-width="0.9" stroke-linejoin="round" />
<polyline points="396.90,134.09 398.00,134.09 399.10,134.08 400.20,134.06 401.30,134.04 402.40,133.98 403.50,133.89 404.60,133.74 405.70,133.50 406.80,133.10 407.90,132.47 409.00,131.54 410.10,130.20 411.20,127.72 412.30,124.81 413.40,120.62 414.50,114.84 415.60,108.30 416.70,99.77 417.80,90.76 418.90,76.82 420.00,66.89 421.10,57.11 422.20,51.25 423.30,54.62 424.40,61.75 425.50,70.30 426.60,79.39 427.70,89.29 428.80,97.95 429.90,104.50 431.00,111.65 432.10,116.75 433.20,121.17 434.30,125.00 435.40,127.63 436.50,129.58 437.60,130.82 438.70,131.92 439.80,132.67 440.90,133.16 442.00,133.49 443.10,133.71 444.20,133.86 445.30,133.95 446.40,134.01 447.50,134.04 448.60,134.07 449.70,134.08 450.80,134.09 451.90,134.09 453.00,134.10 454.10,134.10 455.20,134.10 456.30,134.10 457.40,134.10 458.50,134.10 459.60,134.10 460.70,134.10 461.80,134.10 462.90,134.10 464.00,134.10 465.10,134.10 466.20,134.10 467.30,134.10 468.40,134.10 469.50,134.10 470.60,134.10 471.70,134.10 472.80,134.10 473.90,134.10 475.00,134.10 476.10,134.10 477.20,134.10 478.30,134.10 479.40,134.10 480.50,134.10 481.60,134.10 482.70,134.10 483.80,134.10 484.90,134.10 486.00,134.10 487.10,134.10 488.20,134.10 489.30,134.10 490.40,134.10 491.50,134.10 492.60,134.10 493.70,134.10 494.80,134.10 495.90,134.10 497.00,134.10 498.10,134.10 499.20,134.10 500.30,134.10 501.40,134.10 502.50,134.10 503.60,134.10 504.70,134.10 505.80,134.10 506.90,134.10 508.00,134.10" fill="none" stroke="#4656da" stroke-width="0.9" stroke-linejoin="round" />
<polyline points="396.90,134.10 398.00,134.10 399.10,134.10 400.20,134.10 401.30,134.10 402.40,134.10 403.50,134.09 404.60,134.08 405.70,134.06 406.80,134.03 407.90,133.96 409.00,133.84 410.10,133.64 411.20,133.30 412.30,132.73 413.40,131.71 414.50,130.57 415.60,128.14 416.70,124.99 417.80,120.94 418.90,114.70 420.00,106.98 421.10,97.98 422.20,86.78 423.30,74.46 424.40,64.15 425.50,56.06 426.60,57.42 427.70,61.07 428.80,69.98 429.90,77.55 431.00,86.42 432.10,94.81 433.20,102.73 434.30,109.67 435.40,115.66 436.50,119.40 437.60,123.59 438.70,126.43 439.80,128.56 440.90,129.90 442.00,131.36 443.10,132.13 444.20,132.76 445.30,133.20 446.40,133.51 447.50,133.71 448.60,133.85 449.70,133.94 450.80,134.00 451.90,134.04 453.00,134.06 454.10,134.08 455.20,134.09 456.30,134.09 457.40,134.10 458.50,134.10 459.60,134.10 460.70,134.10 461.80,134.10 462.90,134.10 464.00,134.10 465.10,134.10 466.20,134.10 467.30,134.10 468.40,134.10 469.50,134.10 470.60,134.10 471.70,134.10 472.80,134.10 473.90,134.10 475.00,134.10 476.10,134.10 477.20,134.10 478.30,134.10 479.40,134.10 480.50,134.10 481.60,134.10 482.70,134.10 483.80,134.10 484.90,134.10 486.00,134.10 487.10,134.10 488.20,134.10 489.30,134.10 490.40,134.10 491.50,134.10 492.60,134.10 493.70,134.10 494.80,134.10 495.90,134.10 497.00,134.10 498.10,134.10 499.20,134.10 500.30,134.10 501.40,134.10 502.50,134.10 503.60,134.10 504.70,134.10 505.80,134.10 506.90,134.10 508.00,134.10" fill="none" stroke="#4cd84c" stroke-width="0.9" stroke-linejoin="round" />
<polyline points="396.90,134.10 398.00,134.10 399.10,134.10 400.20,134.10 401.30,134.10 402.40,134.10 403.50,134.10 404.60,134.10 405.70,134.10 406.80,134.09 407.90,134.09 409.00,134.08 410.10,134.05 411.20,134.00 412.30,133.91 413.40,133.73 414.50,133.40 415.60,132.83 416.70,131.77 417.80,130.33 418.90,127.88 420.00,123.95 421.10,118.42 422.20,110.59 423.30,100.24 424.40,86.92 425.50,72.93 426.60,58.71 427.70,45.81 428.80,38.34 429.90,42.97 431.00,52.11 432.10,63.38 433.20,74.22 434.30,84.39 435.40,94.50 436.50,102.89 437.60,110.35 438.70,116.02 439.80,120.45 440.90,124.44 442.00,127.39 443.10,129.18 444.20,130.78 445.30,131.96 446.40,132.62 447.50,133.13 448.60,133.47 449.70,133.70 450.80,133.85 451.90,133.95 453.00,134.01 454.10,134.04 455.20,134.07 456.30,134.08 457.40,134.09 458.50,134.09 459.60,134.10 460.70,134.10 461.80,134.10 462.90,134.10 464.00,134.10 465.10,134.10 466.20,134.10 467.30,134.10 468.40,134.10 469.50,134.10 470.60,134.10 471.70,134.10 472.80,134.10 473.90,134.10 475.00,134.10 476.10,134.10 477.20,134.10 478.30,134.10 479.40,134.10 480.50,134.10 481.60,134.10 482.70,134.10 483.80,134.10 484.90,134.10 486.00,134.10 487.10,134.10 488.20,134.10 489.30,134.10 490.40,134.10 491.50,134.10 492.60,134.10 493.70,134.10 494.80,134.10 495.90,134.10 497.00,134.10 498.10,134.10 499.20,134.10 500.30,134.10 501.40,134.10 502.50,134.10 503.60,134.10 504.70,134.10 505.80,134.10 506.90,134.10 508.00,134.10" fill="none" stroke="#e65048" stroke-width="0.9" stroke-linejoin="round" />
<rect x="25.30" y="19.30" width="113.20" height="115.50" fill="none" stroke="#a0a0a0" stroke-width="1"/>
<rect x="146.30" y="19.30" width="114.00" height="115.50" fill="none" stroke="#a0a0a0" stroke-width="1"/>
<rect x="269.40" y="19.30" width="117.40" height="115.50" fill="none" stroke="#a0a0a0" stroke-width="1"/>
<rect x="396.30" y="19.30" width="113.30" height="115.50" fill="none" stroke="#a0a0a0" stroke-width="1"/>
<line x1="467.00" y1="23.40" x2="480.50" y2="23.40" stroke="#c8ccd4" stroke-width="1.2" />
<text transform="translate(481.00,25.80) scale(0.93,1)" x="0" y="0" font-size="7.6" text-anchor="start" font-weight="bold" fill="#222">Isotype</text>
<line x1="467.00" y1="32.52" x2="480.50" y2="32.52" stroke="#c84848" stroke-width="1.6" />
<text transform="translate(481.00,34.92) scale(0.93,1)" x="0" y="0" font-size="7.6" text-anchor="start" font-weight="bold" fill="#222">5 days</text>
<line x1="467.00" y1="41.64" x2="480.50" y2="41.64" stroke="#44d044" stroke-width="1.6" />
<text transform="translate(481.00,44.04) scale(0.93,1)" x="0" y="0" font-size="7.6" text-anchor="start" font-weight="bold" fill="#222">6 days</text>
<line x1="467.00" y1="50.76" x2="480.50" y2="50.76" stroke="#4848c8" stroke-width="1.6" />
<text transform="translate(481.00,53.16) scale(0.93,1)" x="0" y="0" font-size="7.6" text-anchor="start" font-weight="bold" fill="#222">7 days</text>
<line x1="467.00" y1="59.88" x2="480.50" y2="59.88" stroke="#c838c8" stroke-width="1.6" />
<text transform="translate(481.00,62.28) scale(0.93,1)" x="0" y="0" font-size="7.6" text-anchor="start" font-weight="bold" fill="#222">8 days</text>
<line x1="467.00" y1="69.00" x2="480.50" y2="69.00" stroke="#000" stroke-width="1.6" />
<text transform="translate(481.00,71.40) scale(0.93,1)" x="0" y="0" font-size="7.6" text-anchor="start" font-weight="bold" fill="#222">9 days</text>
<text transform="translate(14.00,81.50) rotate(-90)" font-size="9.0" text-anchor="middle" font-weight="bold" fill="#111">Cell numbers</text>
<text x="78.40" y="183.00" font-size="10.2" text-anchor="middle" font-weight="bold" fill="#111" >PODXL</text>
<text x="197.90" y="182.70" font-size="10.2" text-anchor="middle" font-weight="bold" fill="#111" >CD49f</text>
<text x="321.90" y="182.20" font-size="10.2" text-anchor="middle" font-weight="bold" fill="#111" >CD49d</text>
<text x="449.90" y="182.60" font-size="10.2" text-anchor="middle" font-weight="bold" fill="#111" >c-Met</text>
<text transform="translate(18.00,305.00) scale(0.83,1)" x="0" y="0" font-size="8.1" text-anchor="end" fill="#2a2a2a">0</text>
<text transform="translate(18.00,281.58) scale(0.83,1)" x="0" y="0" font-size="8.1" text-anchor="end" fill="#2a2a2a">20</text>
<text transform="translate(18.00,258.16) scale(0.83,1)" x="0" y="0" font-size="8.1" text-anchor="end" fill="#2a2a2a">40</text>
<text transform="translate(18.00,234.74) scale(0.83,1)" x="0" y="0" font-size="8.1" text-anchor="end" fill="#2a2a2a">60</text>
<text transform="translate(18.00,211.32) scale(0.83,1)" x="0" y="0" font-size="8.1" text-anchor="end" fill="#2a2a2a">80</text>
<text transform="translate(18.00,187.90) scale(0.83,1)" x="0" y="0" font-size="8.1" text-anchor="end" fill="#2a2a2a">100</text>
<line x1="23.50" y1="185.60" x2="129.00" y2="185.60" stroke="#8a8a8a" stroke-width="1.2" />
<line x1="129.00" y1="185.60" x2="129.00" y2="302.70" stroke="#8a8a8a" stroke-width="1.2" />
<line x1="23.50" y1="185.60" x2="23.50" y2="302.70" stroke="#555" stroke-width="1.3" />
<line x1="23.50" y1="302.70" x2="129.00" y2="302.70" stroke="#555" stroke-width="1.3" />
<polyline points="34.40,247.19 55.00,257.62 76.50,260.90 97.80,270.61 118.60,290.17" fill="none" stroke="#3ccc3c" stroke-width="1.0" stroke-linejoin="round" />
<polyline points="34.40,242.63 55.00,272.72 76.50,277.64 97.80,289.47 118.60,289.47" fill="none" stroke="#222" stroke-width="1.0" stroke-linejoin="round" />
<polyline points="34.40,222.60 55.00,245.32 76.50,254.69 97.80,281.39 118.60,281.39" fill="none" stroke="#cc44cc" stroke-width="1.0" stroke-linejoin="round" />
<polyline points="34.40,212.53 55.00,229.63 76.50,253.17 97.80,282.79 118.60,285.13" fill="none" stroke="#4a68c8" stroke-width="1.0" stroke-linejoin="round" />
<polyline points="34.40,212.06 55.00,244.62 76.50,238.18 97.80,285.13 118.60,286.42" fill="none" stroke="#c8383a" stroke-width="1.0" stroke-linejoin="round" />
<rect x="32.30" y="245.09" width="4.20" height="4.20" fill="#3ee03e"/>
<rect x="52.90" y="255.52" width="4.20" height="4.20" fill="#3ee03e"/>
<rect x="74.40" y="258.80" width="4.20" height="4.20" fill="#3ee03e"/>
<rect x="95.70" y="268.51" width="4.20" height="4.20" fill="#3ee03e"/>
<rect x="116.50" y="288.07" width="4.20" height="4.20" fill="#3ee03e"/>
<polygon points="34.40,240.00 37.02,242.63 34.40,245.25 31.77,242.63" fill="#000"/>
<polygon points="55.00,270.10 57.62,272.72 55.00,275.35 52.38,272.72" fill="#000"/>
<polygon points="76.50,275.02 79.12,277.64 76.50,280.27 73.88,277.64" fill="#000"/>
<polygon points="97.80,286.84 100.42,289.47 97.80,292.09 95.17,289.47" fill="#000"/>
<polygon points="118.60,286.84 121.22,289.47 118.60,292.09 115.97,289.47" fill="#000"/>
<rect x="32.70" y="220.90" width="3.40" height="3.40" fill="#d83ad8"/>
<rect x="53.30" y="243.62" width="3.40" height="3.40" fill="#d83ad8"/>
<rect x="74.80" y="252.99" width="3.40" height="3.40" fill="#d83ad8"/>
<rect x="96.10" y="279.69" width="3.40" height="3.40" fill="#d83ad8"/>
<rect x="116.90" y="279.69" width="3.40" height="3.40" fill="#d83ad8"/>
<polygon points="34.40,210.01 36.92,214.21 31.88,214.21" fill="#3a62c8"/>
<polygon points="55.00,227.11 57.52,231.31 52.48,231.31" fill="#3a62c8"/>
<polygon points="76.50,250.65 79.02,254.85 73.98,254.85" fill="#3a62c8"/>
<polygon points="97.80,280.27 100.32,284.47 95.28,284.47" fill="#3a62c8"/>
<polygon points="118.60,282.62 121.12,286.81 116.08,286.81" fill="#3a62c8"/>
<rect x="32.30" y="209.96" width="4.20" height="4.20" fill="#d81c28"/>
<rect x="52.90" y="242.52" width="4.20" height="4.20" fill="#d81c28"/>
<rect x="74.40" y="236.08" width="4.20" height="4.20" fill="#d81c28"/>
<rect x="95.70" y="283.03" width="4.20" height="4.20" fill="#d81c28"/>
<rect x="116.50" y="284.32" width="4.20" height="4.20" fill="#d81c28"/>
<text transform="translate(34.40,317.60) scale(0.8,1)" x="0" y="0" font-size="9.0" text-anchor="middle" fill="#2a2a2a">5</text>
<text transform="translate(55.00,317.60) scale(0.8,1)" x="0" y="0" font-size="9.0" text-anchor="middle" fill="#2a2a2a">6</text>
<text transform="translate(76.50,317.60) scale(0.8,1)" x="0" y="0" font-size="9.0" text-anchor="middle" fill="#2a2a2a">7</text>
<text transform="translate(97.80,317.60) scale(0.8,1)" x="0" y="0" font-size="9.0" text-anchor="middle" fill="#2a2a2a">8</text>
<text transform="translate(118.60,317.60) scale(0.8,1)" x="0" y="0" font-size="9.0" text-anchor="middle" fill="#2a2a2a">9</text>
<text x="123.75" y="316.70" font-size="8.1" text-anchor="start" font-weight="bold" fill="#111" >days</text>
<text transform="translate(140.60,304.80) scale(0.83,1)" x="0" y="0" font-size="8.1" text-anchor="end" fill="#2a2a2a">0</text>
<text transform="translate(140.60,281.42) scale(0.83,1)" x="0" y="0" font-size="8.1" text-anchor="end" fill="#2a2a2a">10</text>
<text transform="translate(140.60,258.04) scale(0.83,1)" x="0" y="0" font-size="8.1" text-anchor="end" fill="#2a2a2a">20</text>
<text transform="translate(140.60,234.66) scale(0.83,1)" x="0" y="0" font-size="8.1" text-anchor="end" fill="#2a2a2a">30</text>
<text transform="translate(140.60,211.28) scale(0.83,1)" x="0" y="0" font-size="8.1" text-anchor="end" fill="#2a2a2a">40</text>
<text transform="translate(140.60,187.90) scale(0.83,1)" x="0" y="0" font-size="8.1" text-anchor="end" fill="#2a2a2a">50</text>
<line x1="146.00" y1="185.60" x2="253.00" y2="185.60" stroke="#8a8a8a" stroke-width="1.2" />
<line x1="253.00" y1="185.60" x2="253.00" y2="302.50" stroke="#8a8a8a" stroke-width="1.2" />
<line x1="146.00" y1="185.60" x2="146.00" y2="302.50" stroke="#555" stroke-width="1.3" />
<line x1="146.00" y1="302.50" x2="253.00" y2="302.50" stroke="#555" stroke-width="1.3" />
<polyline points="156.80,268.83 178.20,279.59 199.50,279.59 221.20,289.41 242.50,292.45" fill="none" stroke="#3ccc3c" stroke-width="1.0" stroke-linejoin="round" />
<polyline points="156.80,259.48 178.20,275.61 199.50,282.63 221.20,288.71 242.50,289.64" fill="none" stroke="#222" stroke-width="1.0" stroke-linejoin="round" />
<polyline points="156.80,253.87 178.20,270.47 199.50,276.78 221.20,287.07 242.50,289.64" fill="none" stroke="#cc44cc" stroke-width="1.0" stroke-linejoin="round" />
<polyline points="156.80,240.08 178.20,254.34 199.50,268.83 221.20,285.67 242.50,289.17" fill="none" stroke="#4a68c8" stroke-width="1.0" stroke-linejoin="round" />
<polyline points="156.80,213.89 178.20,237.50 199.50,244.99 221.20,279.35 242.50,288.00" fill="none" stroke="#c8383a" stroke-width="1.0" stroke-linejoin="round" />
<rect x="154.70" y="266.73" width="4.20" height="4.20" fill="#3ee03e"/>
<rect x="176.10" y="277.49" width="4.20" height="4.20" fill="#3ee03e"/>
<rect x="197.40" y="277.49" width="4.20" height="4.20" fill="#3ee03e"/>
<rect x="219.10" y="287.31" width="4.20" height="4.20" fill="#3ee03e"/>
<rect x="240.40" y="290.35" width="4.20" height="4.20" fill="#3ee03e"/>
<polygon points="156.80,256.86 159.43,259.48 156.80,262.11 154.18,259.48" fill="#000"/>
<polygon points="178.20,272.99 180.82,275.61 178.20,278.24 175.57,275.61" fill="#000"/>
<polygon points="199.50,280.00 202.12,282.63 199.50,285.25 196.88,282.63" fill="#000"/>
<polygon points="221.20,286.08 223.82,288.71 221.20,291.33 218.57,288.71" fill="#000"/>
<polygon points="242.50,287.02 245.12,289.64 242.50,292.27 239.88,289.64" fill="#000"/>
<rect x="155.10" y="252.17" width="3.40" height="3.40" fill="#d83ad8"/>
<rect x="176.50" y="268.77" width="3.40" height="3.40" fill="#d83ad8"/>
<rect x="197.80" y="275.08" width="3.40" height="3.40" fill="#d83ad8"/>
<rect x="219.50" y="285.37" width="3.40" height="3.40" fill="#d83ad8"/>
<rect x="240.80" y="287.94" width="3.40" height="3.40" fill="#d83ad8"/>
<polygon points="156.80,237.56 159.32,241.76 154.28,241.76" fill="#3a62c8"/>
<polygon points="178.20,251.82 180.72,256.02 175.68,256.02" fill="#3a62c8"/>
<polygon points="199.50,266.31 202.02,270.51 196.98,270.51" fill="#3a62c8"/>
<polygon points="221.20,283.15 223.72,287.35 218.68,287.35" fill="#3a62c8"/>
<polygon points="242.50,286.65 245.02,290.85 239.98,290.85" fill="#3a62c8"/>
<rect x="154.70" y="211.79" width="4.20" height="4.20" fill="#d81c28"/>
<rect x="176.10" y="235.40" width="4.20" height="4.20" fill="#d81c28"/>
<rect x="197.40" y="242.89" width="4.20" height="4.20" fill="#d81c28"/>
<rect x="219.10" y="277.25" width="4.20" height="4.20" fill="#d81c28"/>
<rect x="240.40" y="285.90" width="4.20" height="4.20" fill="#d81c28"/>
<text transform="translate(156.80,317.60) scale(0.8,1)" x="0" y="0" font-size="9.0" text-anchor="middle" fill="#2a2a2a">5</text>
<text transform="translate(178.20,317.60) scale(0.8,1)" x="0" y="0" font-size="9.0" text-anchor="middle" fill="#2a2a2a">6</text>
<text transform="translate(199.50,317.60) scale(0.8,1)" x="0" y="0" font-size="9.0" text-anchor="middle" fill="#2a2a2a">7</text>
<text transform="translate(221.20,317.60) scale(0.8,1)" x="0" y="0" font-size="9.0" text-anchor="middle" fill="#2a2a2a">8</text>
<text transform="translate(242.50,317.60) scale(0.8,1)" x="0" y="0" font-size="9.0" text-anchor="middle" fill="#2a2a2a">9</text>
<text x="246.70" y="316.70" font-size="8.1" text-anchor="start" font-weight="bold" fill="#111" >days</text>
<text transform="translate(264.10,304.50) scale(0.83,1)" x="0" y="0" font-size="8.1" text-anchor="end" fill="#2a2a2a">0</text>
<text transform="translate(264.10,281.16) scale(0.83,1)" x="0" y="0" font-size="8.1" text-anchor="end" fill="#2a2a2a">10</text>
<text transform="translate(264.10,257.82) scale(0.83,1)" x="0" y="0" font-size="8.1" text-anchor="end" fill="#2a2a2a">20</text>
<text transform="translate(264.10,234.48) scale(0.83,1)" x="0" y="0" font-size="8.1" text-anchor="end" fill="#2a2a2a">30</text>
<text transform="translate(264.10,211.14) scale(0.83,1)" x="0" y="0" font-size="8.1" text-anchor="end" fill="#2a2a2a">40</text>
<text transform="translate(264.10,187.80) scale(0.83,1)" x="0" y="0" font-size="8.1" text-anchor="end" fill="#2a2a2a">50</text>
<line x1="269.50" y1="185.50" x2="379.30" y2="185.50" stroke="#8a8a8a" stroke-width="1.2" />
<line x1="379.30" y1="185.50" x2="379.30" y2="302.20" stroke="#8a8a8a" stroke-width="1.2" />
<line x1="269.50" y1="185.50" x2="269.50" y2="302.20" stroke="#555" stroke-width="1.3" />
<line x1="269.50" y1="302.20" x2="379.30" y2="302.20" stroke="#555" stroke-width="1.3" />
<polyline points="280.50,247.35 302.50,259.25 325.00,251.09 346.80,251.79 368.80,269.29" fill="none" stroke="#3ccc3c" stroke-width="1.0" stroke-linejoin="round" />
<polyline points="280.50,226.11 302.50,247.82 325.00,244.78 346.80,259.72 368.80,256.92" fill="none" stroke="#222" stroke-width="1.0" stroke-linejoin="round" />
<polyline points="280.50,197.40 302.50,234.05 325.00,229.38 346.80,257.39 368.80,251.09" fill="none" stroke="#cc44cc" stroke-width="1.0" stroke-linejoin="round" />
<polyline points="280.50,234.05 302.50,253.19 325.00,251.09 346.80,264.86 368.80,265.56" fill="none" stroke="#4a68c8" stroke-width="1.0" stroke-linejoin="round" />
<polyline points="280.50,195.77 302.50,224.48 325.00,218.18 346.80,249.45 368.80,237.31" fill="none" stroke="#c8383a" stroke-width="1.0" stroke-linejoin="round" />
<rect x="278.40" y="245.25" width="4.20" height="4.20" fill="#3ee03e"/>
<rect x="300.40" y="257.15" width="4.20" height="4.20" fill="#3ee03e"/>
<rect x="322.90" y="248.99" width="4.20" height="4.20" fill="#3ee03e"/>
<rect x="344.70" y="249.69" width="4.20" height="4.20" fill="#3ee03e"/>
<rect x="366.70" y="267.19" width="4.20" height="4.20" fill="#3ee03e"/>
<polygon points="280.50,223.49 283.12,226.11 280.50,228.74 277.88,226.11" fill="#000"/>
<polygon points="302.50,245.19 305.12,247.82 302.50,250.44 299.88,247.82" fill="#000"/>
<polygon points="325.00,242.16 327.62,244.78 325.00,247.41 322.38,244.78" fill="#000"/>
<polygon points="346.80,257.10 349.43,259.72 346.80,262.35 344.18,259.72" fill="#000"/>
<polygon points="368.80,254.30 371.43,256.92 368.80,259.55 366.18,256.92" fill="#000"/>
<rect x="278.80" y="195.70" width="3.40" height="3.40" fill="#d83ad8"/>
<rect x="300.80" y="232.35" width="3.40" height="3.40" fill="#d83ad8"/>
<rect x="323.30" y="227.68" width="3.40" height="3.40" fill="#d83ad8"/>
<rect x="345.10" y="255.69" width="3.40" height="3.40" fill="#d83ad8"/>
<rect x="367.10" y="249.39" width="3.40" height="3.40" fill="#d83ad8"/>
<polygon points="280.50,231.53 283.02,235.73 277.98,235.73" fill="#3a62c8"/>
<polygon points="302.50,250.67 305.02,254.87 299.98,254.87" fill="#3a62c8"/>
<polygon points="325.00,248.57 327.52,252.77 322.48,252.77" fill="#3a62c8"/>
<polygon points="346.80,262.34 349.32,266.54 344.28,266.54" fill="#3a62c8"/>
<polygon points="368.80,263.04 371.32,267.24 366.28,267.24" fill="#3a62c8"/>
<rect x="278.40" y="193.67" width="4.20" height="4.20" fill="#d81c28"/>
<rect x="300.40" y="222.38" width="4.20" height="4.20" fill="#d81c28"/>
<rect x="322.90" y="216.08" width="4.20" height="4.20" fill="#d81c28"/>
<rect x="344.70" y="247.35" width="4.20" height="4.20" fill="#d81c28"/>
<rect x="366.70" y="235.21" width="4.20" height="4.20" fill="#d81c28"/>
<text transform="translate(280.50,317.60) scale(0.8,1)" x="0" y="0" font-size="9.0" text-anchor="middle" fill="#2a2a2a">5</text>
<text transform="translate(302.50,317.60) scale(0.8,1)" x="0" y="0" font-size="9.0" text-anchor="middle" fill="#2a2a2a">6</text>
<text transform="translate(325.00,317.60) scale(0.8,1)" x="0" y="0" font-size="9.0" text-anchor="middle" fill="#2a2a2a">7</text>
<text transform="translate(346.80,317.60) scale(0.8,1)" x="0" y="0" font-size="9.0" text-anchor="middle" fill="#2a2a2a">8</text>
<text transform="translate(368.80,317.60) scale(0.8,1)" x="0" y="0" font-size="9.0" text-anchor="middle" fill="#2a2a2a">9</text>
<text x="373.50" y="316.70" font-size="8.1" text-anchor="start" font-weight="bold" fill="#111" >days</text>
<text transform="translate(392.60,303.80) scale(0.83,1)" x="0" y="0" font-size="8.1" text-anchor="end" fill="#2a2a2a">0</text>
<text transform="translate(392.60,280.66) scale(0.83,1)" x="0" y="0" font-size="8.1" text-anchor="end" fill="#2a2a2a">4</text>
<text transform="translate(392.60,257.52) scale(0.83,1)" x="0" y="0" font-size="8.1" text-anchor="end" fill="#2a2a2a">8</text>
<text transform="translate(392.60,234.38) scale(0.83,1)" x="0" y="0" font-size="8.1" text-anchor="end" fill="#2a2a2a">12</text>
<text transform="translate(392.60,211.24) scale(0.83,1)" x="0" y="0" font-size="8.1" text-anchor="end" fill="#2a2a2a">16</text>
<text transform="translate(392.60,188.10) scale(0.83,1)" x="0" y="0" font-size="8.1" text-anchor="end" fill="#2a2a2a">20</text>
<line x1="398.00" y1="185.80" x2="507.80" y2="185.80" stroke="#8a8a8a" stroke-width="1.2" />
<line x1="507.80" y1="185.80" x2="507.80" y2="301.50" stroke="#8a8a8a" stroke-width="1.2" />
<line x1="398.00" y1="185.80" x2="398.00" y2="301.50" stroke="#555" stroke-width="1.3" />
<line x1="398.00" y1="301.50" x2="507.80" y2="301.50" stroke="#555" stroke-width="1.3" />
<polyline points="408.90,232.08 431.00,232.08 453.00,235.55 475.30,244.81 497.10,260.43" fill="none" stroke="#3ccc3c" stroke-width="1.0" stroke-linejoin="round" />
<polyline points="408.90,220.51 431.00,250.59 453.00,256.96 475.30,256.96 497.10,260.43" fill="none" stroke="#222" stroke-width="1.0" stroke-linejoin="round" />
<polyline points="408.90,209.52 431.00,226.87 453.00,240.76 475.30,256.38 497.10,282.41" fill="none" stroke="#cc44cc" stroke-width="1.0" stroke-linejoin="round" />
<polyline points="408.90,223.98 431.00,248.86 453.00,254.06 475.30,267.95 497.10,269.68" fill="none" stroke="#4a68c8" stroke-width="1.0" stroke-linejoin="round" />
<polyline points="408.90,215.30 431.00,227.45 453.00,242.49 475.30,265.63 497.10,255.22" fill="none" stroke="#c8383a" stroke-width="1.0" stroke-linejoin="round" />
<rect x="406.80" y="229.98" width="4.20" height="4.20" fill="#3ee03e"/>
<rect x="428.90" y="229.98" width="4.20" height="4.20" fill="#3ee03e"/>
<rect x="450.90" y="233.45" width="4.20" height="4.20" fill="#3ee03e"/>
<rect x="473.20" y="242.71" width="4.20" height="4.20" fill="#3ee03e"/>
<rect x="495.00" y="258.33" width="4.20" height="4.20" fill="#3ee03e"/>
<polygon points="408.90,217.89 411.52,220.51 408.90,223.14 406.27,220.51" fill="#000"/>
<polygon points="431.00,247.97 433.62,250.59 431.00,253.22 428.38,250.59" fill="#000"/>
<polygon points="453.00,254.33 455.62,256.96 453.00,259.58 450.38,256.96" fill="#000"/>
<polygon points="475.30,254.33 477.93,256.96 475.30,259.58 472.68,256.96" fill="#000"/>
<polygon points="497.10,257.80 499.73,260.43 497.10,263.05 494.48,260.43" fill="#000"/>
<rect x="407.20" y="207.82" width="3.40" height="3.40" fill="#d83ad8"/>
<rect x="429.30" y="225.17" width="3.40" height="3.40" fill="#d83ad8"/>
<rect x="451.30" y="239.06" width="3.40" height="3.40" fill="#d83ad8"/>
<rect x="473.60" y="254.68" width="3.40" height="3.40" fill="#d83ad8"/>
<rect x="495.40" y="280.71" width="3.40" height="3.40" fill="#d83ad8"/>
<polygon points="408.90,221.46 411.42,225.66 406.38,225.66" fill="#3a62c8"/>
<polygon points="431.00,246.34 433.52,250.54 428.48,250.54" fill="#3a62c8"/>
<polygon points="453.00,251.54 455.52,255.74 450.48,255.74" fill="#3a62c8"/>
<polygon points="475.30,265.43 477.82,269.63 472.78,269.63" fill="#3a62c8"/>
<polygon points="497.10,267.16 499.62,271.36 494.58,271.36" fill="#3a62c8"/>
<rect x="406.80" y="213.20" width="4.20" height="4.20" fill="#d81c28"/>
<rect x="428.90" y="225.35" width="4.20" height="4.20" fill="#d81c28"/>
<rect x="450.90" y="240.39" width="4.20" height="4.20" fill="#d81c28"/>
<rect x="473.20" y="263.53" width="4.20" height="4.20" fill="#d81c28"/>
<rect x="495.00" y="253.12" width="4.20" height="4.20" fill="#d81c28"/>
<text transform="translate(408.90,317.60) scale(0.8,1)" x="0" y="0" font-size="9.0" text-anchor="middle" fill="#2a2a2a">5</text>
<text transform="translate(431.00,317.60) scale(0.8,1)" x="0" y="0" font-size="9.0" text-anchor="middle" fill="#2a2a2a">6</text>
<text transform="translate(453.00,317.60) scale(0.8,1)" x="0" y="0" font-size="9.0" text-anchor="middle" fill="#2a2a2a">7</text>
<text transform="translate(475.30,317.60) scale(0.8,1)" x="0" y="0" font-size="9.0" text-anchor="middle" fill="#2a2a2a">8</text>
<text transform="translate(497.10,317.60) scale(0.8,1)" x="0" y="0" font-size="9.0" text-anchor="middle" fill="#2a2a2a">9</text>
<text x="501.20" y="316.70" font-size="8.1" text-anchor="start" font-weight="bold" fill="#111" >days</text>
<text transform="translate(7.60,233.70) rotate(-90)" font-size="8.6" text-anchor="middle" font-weight="bold" fill="#222">X-means</text>
<line x1="466.00" y1="192.00" x2="483.60" y2="192.00" stroke="#222" stroke-width="1.7" />
<polygon points="474.80,189.38 477.43,192.00 474.80,194.62 472.18,192.00" fill="#000"/>
<text transform="translate(484.80,194.30) scale(0.86,1)" x="0" y="0" font-size="7.3" text-anchor="start" fill="#444">donor1</text>
<line x1="466.00" y1="200.50" x2="483.60" y2="200.50" stroke="#cc44cc" stroke-width="1.7" />
<rect x="473.10" y="198.80" width="3.40" height="3.40" fill="#d83ad8"/>
<text transform="translate(484.80,202.80) scale(0.86,1)" x="0" y="0" font-size="7.3" text-anchor="start" fill="#444">donor2</text>
<line x1="466.00" y1="209.00" x2="483.60" y2="209.00" stroke="#4a68c8" stroke-width="1.7" />
<polygon points="474.80,206.48 477.32,210.68 472.28,210.68" fill="#3a62c8"/>
<text transform="translate(484.80,211.30) scale(0.86,1)" x="0" y="0" font-size="7.3" text-anchor="start" fill="#444">donor3</text>
<line x1="466.00" y1="217.20" x2="483.60" y2="217.20" stroke="#c8383a" stroke-width="1.7" />
<rect x="472.70" y="215.10" width="4.20" height="4.20" fill="#d81c28"/>
<text transform="translate(484.80,219.50) scale(0.86,1)" x="0" y="0" font-size="7.3" text-anchor="start" fill="#444">donor4</text>
<line x1="466.00" y1="225.50" x2="483.60" y2="225.50" stroke="#3ccc3c" stroke-width="1.7" />
<rect x="472.70" y="223.40" width="4.20" height="4.20" fill="#3ee03e"/>
<text transform="translate(484.80,227.80) scale(0.86,1)" x="0" y="0" font-size="7.3" text-anchor="start" fill="#444">donor5</text>
<text transform="translate(18.80,438.30) scale(0.83,1)" x="0" y="0" font-size="8.1" text-anchor="end" fill="#2a2a2a">0</text>
<text transform="translate(18.80,416.22) scale(0.83,1)" x="0" y="0" font-size="8.1" text-anchor="end" fill="#2a2a2a">20</text>
<text transform="translate(18.80,394.14) scale(0.83,1)" x="0" y="0" font-size="8.1" text-anchor="end" fill="#2a2a2a">40</text>
<text transform="translate(18.80,372.06) scale(0.83,1)" x="0" y="0" font-size="8.1" text-anchor="end" fill="#2a2a2a">60</text>
<text transform="translate(18.80,349.98) scale(0.83,1)" x="0" y="0" font-size="8.1" text-anchor="end" fill="#2a2a2a">80</text>
<text transform="translate(18.80,327.90) scale(0.83,1)" x="0" y="0" font-size="8.1" text-anchor="end" fill="#2a2a2a">100</text>
<line x1="24.30" y1="325.60" x2="126.20" y2="325.60" stroke="#8a8a8a" stroke-width="1.2" />
<line x1="126.20" y1="325.60" x2="126.20" y2="436.00" stroke="#8a8a8a" stroke-width="1.2" />
<line x1="24.30" y1="325.60" x2="24.30" y2="436.00" stroke="#555" stroke-width="1.3" />
<line x1="24.30" y1="436.00" x2="126.20" y2="436.00" stroke="#555" stroke-width="1.3" />
<polyline points="34.50,340.61 55.00,359.82 75.00,369.21 95.00,407.19 115.50,404.87" fill="none" stroke="#3ccc3c" stroke-width="1.0" stroke-linejoin="round" />
<polyline points="34.50,362.69 55.00,375.83 75.00,377.05 95.00,386.54 115.50,431.69" fill="none" stroke="#222" stroke-width="1.0" stroke-linejoin="round" />
<polyline points="34.50,332.67 55.00,336.09 75.00,340.17 95.00,387.87 115.50,380.25" fill="none" stroke="#cc44cc" stroke-width="1.0" stroke-linejoin="round" />
<polyline points="34.50,330.02 55.00,334.65 75.00,337.19 95.00,390.29 115.50,386.54" fill="none" stroke="#4a68c8" stroke-width="1.0" stroke-linejoin="round" />
<polyline points="34.50,329.57 55.00,335.65 75.00,335.09 95.00,394.60 115.50,425.95" fill="none" stroke="#c8383a" stroke-width="1.0" stroke-linejoin="round" />
<rect x="32.40" y="338.51" width="4.20" height="4.20" fill="#3ee03e"/>
<rect x="52.90" y="357.72" width="4.20" height="4.20" fill="#3ee03e"/>
<rect x="72.90" y="367.11" width="4.20" height="4.20" fill="#3ee03e"/>
<rect x="92.90" y="405.09" width="4.20" height="4.20" fill="#3ee03e"/>
<rect x="113.40" y="402.77" width="4.20" height="4.20" fill="#3ee03e"/>
<polygon points="34.50,360.07 37.12,362.69 34.50,365.32 31.88,362.69" fill="#000"/>
<polygon points="55.00,373.21 57.62,375.83 55.00,378.46 52.38,375.83" fill="#000"/>
<polygon points="75.00,374.42 77.62,377.05 75.00,379.67 72.38,377.05" fill="#000"/>
<polygon points="95.00,383.92 97.62,386.54 95.00,389.17 92.38,386.54" fill="#000"/>
<polygon points="115.50,429.07 118.12,431.69 115.50,434.32 112.88,431.69" fill="#000"/>
<rect x="32.80" y="330.97" width="3.40" height="3.40" fill="#d83ad8"/>
<rect x="53.30" y="334.39" width="3.40" height="3.40" fill="#d83ad8"/>
<rect x="73.30" y="338.47" width="3.40" height="3.40" fill="#d83ad8"/>
<rect x="93.30" y="386.17" width="3.40" height="3.40" fill="#d83ad8"/>
<rect x="113.80" y="378.55" width="3.40" height="3.40" fill="#d83ad8"/>
<polygon points="34.50,327.50 37.02,331.70 31.98,331.70" fill="#3a62c8"/>
<polygon points="55.00,332.13 57.52,336.33 52.48,336.33" fill="#3a62c8"/>
<polygon points="75.00,334.67 77.52,338.87 72.48,338.87" fill="#3a62c8"/>
<polygon points="95.00,387.77 97.52,391.97 92.48,391.97" fill="#3a62c8"/>
<polygon points="115.50,384.02 118.02,388.22 112.98,388.22" fill="#3a62c8"/>
<rect x="32.40" y="327.47" width="4.20" height="4.20" fill="#d81c28"/>
<rect x="52.90" y="333.55" width="4.20" height="4.20" fill="#d81c28"/>
<rect x="72.90" y="332.99" width="4.20" height="4.20" fill="#d81c28"/>
<rect x="92.90" y="392.50" width="4.20" height="4.20" fill="#d81c28"/>
<rect x="113.40" y="423.85" width="4.20" height="4.20" fill="#d81c28"/>
<text transform="translate(34.50,449.50) scale(0.8,1)" x="0" y="0" font-size="9.0" text-anchor="middle" fill="#2a2a2a">5</text>
<text transform="translate(55.00,449.50) scale(0.8,1)" x="0" y="0" font-size="9.0" text-anchor="middle" fill="#2a2a2a">6</text>
<text transform="translate(75.00,449.50) scale(0.8,1)" x="0" y="0" font-size="9.0" text-anchor="middle" fill="#2a2a2a">7</text>
<text transform="translate(95.00,449.50) scale(0.8,1)" x="0" y="0" font-size="9.0" text-anchor="middle" fill="#2a2a2a">8</text>
<text transform="translate(115.50,449.50) scale(0.8,1)" x="0" y="0" font-size="9.0" text-anchor="middle" fill="#2a2a2a">9</text>
<text x="120.50" y="448.60" font-size="8.1" text-anchor="start" font-weight="bold" fill="#111" >days</text>
<text transform="translate(143.20,438.60) scale(0.83,1)" x="0" y="0" font-size="8.1" text-anchor="end" fill="#2a2a2a">0</text>
<text transform="translate(143.20,416.86) scale(0.83,1)" x="0" y="0" font-size="8.1" text-anchor="end" fill="#2a2a2a">20</text>
<text transform="translate(143.20,395.12) scale(0.83,1)" x="0" y="0" font-size="8.1" text-anchor="end" fill="#2a2a2a">40</text>
<text transform="translate(143.20,373.38) scale(0.83,1)" x="0" y="0" font-size="8.1" text-anchor="end" fill="#2a2a2a">60</text>
<text transform="translate(143.20,351.64) scale(0.83,1)" x="0" y="0" font-size="8.1" text-anchor="end" fill="#2a2a2a">80</text>
<text transform="translate(143.20,329.90) scale(0.83,1)" x="0" y="0" font-size="8.1" text-anchor="end" fill="#2a2a2a">100</text>
<line x1="148.60" y1="327.60" x2="254.20" y2="327.60" stroke="#8a8a8a" stroke-width="1.2" />
<line x1="254.20" y1="327.60" x2="254.20" y2="436.30" stroke="#8a8a8a" stroke-width="1.2" />
<line x1="148.60" y1="327.60" x2="148.60" y2="436.30" stroke="#555" stroke-width="1.3" />
<line x1="148.60" y1="436.30" x2="254.20" y2="436.30" stroke="#555" stroke-width="1.3" />
<polyline points="158.75,356.51 180.50,388.15 202.00,415.10 223.00,428.80 244.50,430.87" fill="none" stroke="#3ccc3c" stroke-width="1.0" stroke-linejoin="round" />
<polyline points="158.75,370.97 180.50,395.21 202.00,405.10 223.00,427.60 244.50,435.10" fill="none" stroke="#222" stroke-width="1.0" stroke-linejoin="round" />
<polyline points="158.75,350.75 180.50,373.25 202.00,389.67 223.00,422.17 244.50,431.30" fill="none" stroke="#cc44cc" stroke-width="1.0" stroke-linejoin="round" />
<polyline points="158.75,338.36 180.50,349.01 202.00,369.78 223.00,420.10 244.50,431.30" fill="none" stroke="#4a68c8" stroke-width="1.0" stroke-linejoin="round" />
<polyline points="158.75,332.38 180.50,339.56 202.00,343.58 223.00,396.95 244.50,425.86" fill="none" stroke="#c8383a" stroke-width="1.0" stroke-linejoin="round" />
<rect x="156.65" y="354.41" width="4.20" height="4.20" fill="#3ee03e"/>
<rect x="178.40" y="386.05" width="4.20" height="4.20" fill="#3ee03e"/>
<rect x="199.90" y="413.00" width="4.20" height="4.20" fill="#3ee03e"/>
<rect x="220.90" y="426.70" width="4.20" height="4.20" fill="#3ee03e"/>
<rect x="242.40" y="428.76" width="4.20" height="4.20" fill="#3ee03e"/>
<polygon points="158.75,368.35 161.38,370.97 158.75,373.60 156.12,370.97" fill="#000"/>
<polygon points="180.50,392.59 183.12,395.21 180.50,397.84 177.88,395.21" fill="#000"/>
<polygon points="202.00,402.48 204.62,405.10 202.00,407.73 199.38,405.10" fill="#000"/>
<polygon points="223.00,424.98 225.62,427.60 223.00,430.23 220.38,427.60" fill="#000"/>
<polygon points="244.50,432.48 247.12,435.10 244.50,437.73 241.88,435.10" fill="#000"/>
<rect x="157.05" y="349.05" width="3.40" height="3.40" fill="#d83ad8"/>
<rect x="178.80" y="371.55" width="3.40" height="3.40" fill="#d83ad8"/>
<rect x="200.30" y="387.97" width="3.40" height="3.40" fill="#d83ad8"/>
<rect x="221.30" y="420.47" width="3.40" height="3.40" fill="#d83ad8"/>
<rect x="242.80" y="429.60" width="3.40" height="3.40" fill="#d83ad8"/>
<polygon points="158.75,335.84 161.27,340.04 156.23,340.04" fill="#3a62c8"/>
<polygon points="180.50,346.49 183.02,350.69 177.98,350.69" fill="#3a62c8"/>
<polygon points="202.00,367.26 204.52,371.46 199.48,371.46" fill="#3a62c8"/>
<polygon points="223.00,417.58 225.52,421.78 220.48,421.78" fill="#3a62c8"/>
<polygon points="244.50,428.78 247.02,432.98 241.98,432.98" fill="#3a62c8"/>
<rect x="156.65" y="330.28" width="4.20" height="4.20" fill="#d81c28"/>
<rect x="178.40" y="337.46" width="4.20" height="4.20" fill="#d81c28"/>
<rect x="199.90" y="341.48" width="4.20" height="4.20" fill="#d81c28"/>
<rect x="220.90" y="394.85" width="4.20" height="4.20" fill="#d81c28"/>
<rect x="242.40" y="423.76" width="4.20" height="4.20" fill="#d81c28"/>
<text transform="translate(158.75,449.50) scale(0.8,1)" x="0" y="0" font-size="9.0" text-anchor="middle" fill="#2a2a2a">5</text>
<text transform="translate(180.50,449.50) scale(0.8,1)" x="0" y="0" font-size="9.0" text-anchor="middle" fill="#2a2a2a">6</text>
<text transform="translate(202.00,449.50) scale(0.8,1)" x="0" y="0" font-size="9.0" text-anchor="middle" fill="#2a2a2a">7</text>
<text transform="translate(223.00,449.50) scale(0.8,1)" x="0" y="0" font-size="9.0" text-anchor="middle" fill="#2a2a2a">8</text>
<text transform="translate(244.50,449.50) scale(0.8,1)" x="0" y="0" font-size="9.0" text-anchor="middle" fill="#2a2a2a">9</text>
<text x="248.50" y="448.60" font-size="8.1" text-anchor="start" font-weight="bold" fill="#111" >days</text>
<text transform="translate(272.10,439.70) scale(0.83,1)" x="0" y="0" font-size="8.1" text-anchor="end" fill="#2a2a2a">0</text>
<text transform="translate(272.10,417.88) scale(0.83,1)" x="0" y="0" font-size="8.1" text-anchor="end" fill="#2a2a2a">20</text>
<text transform="translate(272.10,396.06) scale(0.83,1)" x="0" y="0" font-size="8.1" text-anchor="end" fill="#2a2a2a">40</text>
<text transform="translate(272.10,374.24) scale(0.83,1)" x="0" y="0" font-size="8.1" text-anchor="end" fill="#2a2a2a">60</text>
<text transform="translate(272.10,352.42) scale(0.83,1)" x="0" y="0" font-size="8.1" text-anchor="end" fill="#2a2a2a">80</text>
<text transform="translate(272.10,330.60) scale(0.83,1)" x="0" y="0" font-size="8.1" text-anchor="end" fill="#2a2a2a">100</text>
<line x1="277.50" y1="328.30" x2="380.00" y2="328.30" stroke="#8a8a8a" stroke-width="1.2" />
<line x1="380.00" y1="328.30" x2="380.00" y2="437.40" stroke="#8a8a8a" stroke-width="1.2" />
<line x1="277.50" y1="328.30" x2="277.50" y2="437.40" stroke="#555" stroke-width="1.3" />
<line x1="277.50" y1="437.40" x2="380.00" y2="437.40" stroke="#555" stroke-width="1.3" />
<polyline points="287.50,353.83 307.50,368.56 328.25,367.36 349.50,376.85 370.00,372.38" fill="none" stroke="#3ccc3c" stroke-width="1.0" stroke-linejoin="round" />
<polyline points="287.50,364.85 307.50,374.89 328.25,366.81 349.50,363.10 370.00,383.61" fill="none" stroke="#222" stroke-width="1.0" stroke-linejoin="round" />
<polyline points="287.50,341.83 307.50,354.81 328.25,352.52 349.50,371.29 370.00,364.30" fill="none" stroke="#cc44cc" stroke-width="1.0" stroke-linejoin="round" />
<polyline points="287.50,358.08 307.50,369.32 328.25,371.29 349.50,383.07 370.00,384.38" fill="none" stroke="#4a68c8" stroke-width="1.0" stroke-linejoin="round" />
<polyline points="287.50,339.86 307.50,346.19 328.25,343.90 349.50,361.90 370.00,348.81" fill="none" stroke="#c8383a" stroke-width="1.0" stroke-linejoin="round" />
<rect x="285.40" y="351.73" width="4.20" height="4.20" fill="#3ee03e"/>
<rect x="305.40" y="366.46" width="4.20" height="4.20" fill="#3ee03e"/>
<rect x="326.15" y="365.26" width="4.20" height="4.20" fill="#3ee03e"/>
<rect x="347.40" y="374.75" width="4.20" height="4.20" fill="#3ee03e"/>
<rect x="367.90" y="370.28" width="4.20" height="4.20" fill="#3ee03e"/>
<polygon points="287.50,362.22 290.12,364.85 287.50,367.47 284.88,364.85" fill="#000"/>
<polygon points="307.50,372.26 310.12,374.89 307.50,377.51 304.88,374.89" fill="#000"/>
<polygon points="328.25,364.19 330.88,366.81 328.25,369.44 325.62,366.81" fill="#000"/>
<polygon points="349.50,360.48 352.12,363.10 349.50,365.73 346.88,363.10" fill="#000"/>
<polygon points="370.00,380.99 372.62,383.61 370.00,386.24 367.38,383.61" fill="#000"/>
<rect x="285.80" y="340.13" width="3.40" height="3.40" fill="#d83ad8"/>
<rect x="305.80" y="353.11" width="3.40" height="3.40" fill="#d83ad8"/>
<rect x="326.55" y="350.82" width="3.40" height="3.40" fill="#d83ad8"/>
<rect x="347.80" y="369.59" width="3.40" height="3.40" fill="#d83ad8"/>
<rect x="368.30" y="362.60" width="3.40" height="3.40" fill="#d83ad8"/>
<polygon points="287.50,355.56 290.02,359.76 284.98,359.76" fill="#3a62c8"/>
<polygon points="307.50,366.80 310.02,371.00 304.98,371.00" fill="#3a62c8"/>
<polygon points="328.25,368.77 330.77,372.97 325.73,372.97" fill="#3a62c8"/>
<polygon points="349.50,380.55 352.02,384.75 346.98,384.75" fill="#3a62c8"/>
<polygon points="370.00,381.86 372.52,386.06 367.48,386.06" fill="#3a62c8"/>
<rect x="285.40" y="337.76" width="4.20" height="4.20" fill="#d81c28"/>
<rect x="305.40" y="344.09" width="4.20" height="4.20" fill="#d81c28"/>
<rect x="326.15" y="341.80" width="4.20" height="4.20" fill="#d81c28"/>
<rect x="347.40" y="359.80" width="4.20" height="4.20" fill="#d81c28"/>
<rect x="367.90" y="346.71" width="4.20" height="4.20" fill="#d81c28"/>
<text transform="translate(287.50,449.50) scale(0.8,1)" x="0" y="0" font-size="9.0" text-anchor="middle" fill="#2a2a2a">5</text>
<text transform="translate(307.50,449.50) scale(0.8,1)" x="0" y="0" font-size="9.0" text-anchor="middle" fill="#2a2a2a">6</text>
<text transform="translate(328.25,449.50) scale(0.8,1)" x="0" y="0" font-size="9.0" text-anchor="middle" fill="#2a2a2a">7</text>
<text transform="translate(349.50,449.50) scale(0.8,1)" x="0" y="0" font-size="9.0" text-anchor="middle" fill="#2a2a2a">8</text>
<text transform="translate(370.00,449.50) scale(0.8,1)" x="0" y="0" font-size="9.0" text-anchor="middle" fill="#2a2a2a">9</text>
<text x="373.50" y="448.60" font-size="8.1" text-anchor="start" font-weight="bold" fill="#111" >days</text>
<text transform="translate(397.30,439.00) scale(0.83,1)" x="0" y="0" font-size="8.1" text-anchor="end" fill="#2a2a2a">0</text>
<text transform="translate(397.30,421.13) scale(0.83,1)" x="0" y="0" font-size="8.1" text-anchor="end" fill="#2a2a2a">20</text>
<text transform="translate(397.30,403.27) scale(0.83,1)" x="0" y="0" font-size="8.1" text-anchor="end" fill="#2a2a2a">40</text>
<text transform="translate(397.30,385.40) scale(0.83,1)" x="0" y="0" font-size="8.1" text-anchor="end" fill="#2a2a2a">60</text>
<text transform="translate(397.30,367.53) scale(0.83,1)" x="0" y="0" font-size="8.1" text-anchor="end" fill="#2a2a2a">80</text>
<text transform="translate(397.30,349.67) scale(0.83,1)" x="0" y="0" font-size="8.1" text-anchor="end" fill="#2a2a2a">100</text>
<text transform="translate(397.30,331.80) scale(0.83,1)" x="0" y="0" font-size="8.1" text-anchor="end" fill="#2a2a2a">120</text>
<line x1="402.70" y1="329.50" x2="507.50" y2="329.50" stroke="#8a8a8a" stroke-width="1.2" />
<line x1="507.50" y1="329.50" x2="507.50" y2="436.70" stroke="#8a8a8a" stroke-width="1.2" />
<line x1="402.70" y1="329.50" x2="402.70" y2="436.70" stroke="#555" stroke-width="1.3" />
<line x1="402.70" y1="436.70" x2="507.50" y2="436.70" stroke="#555" stroke-width="1.3" />
<polyline points="413.00,353.71 433.80,383.28 455.10,399.72 476.40,400.43 497.10,406.77" fill="none" stroke="#3ccc3c" stroke-width="1.0" stroke-linejoin="round" />
<polyline points="413.00,373.72 433.80,381.49 455.10,390.60 476.40,403.02 497.10,426.96" fill="none" stroke="#222" stroke-width="1.0" stroke-linejoin="round" />
<polyline points="413.00,350.31 433.80,356.30 455.10,369.34 476.40,406.15 497.10,434.29" fill="none" stroke="#cc44cc" stroke-width="1.0" stroke-linejoin="round" />
<polyline points="413.00,352.91 433.80,382.83 455.10,408.29 476.40,423.93 497.10,423.93" fill="none" stroke="#4a68c8" stroke-width="1.0" stroke-linejoin="round" />
<polyline points="413.00,350.31 433.80,365.86 455.10,382.30 476.40,416.60 497.10,400.43" fill="none" stroke="#c8383a" stroke-width="1.0" stroke-linejoin="round" />
<rect x="410.90" y="351.61" width="4.20" height="4.20" fill="#3ee03e"/>
<rect x="431.70" y="381.18" width="4.20" height="4.20" fill="#3ee03e"/>
<rect x="453.00" y="397.62" width="4.20" height="4.20" fill="#3ee03e"/>
<rect x="474.30" y="398.33" width="4.20" height="4.20" fill="#3ee03e"/>
<rect x="495.00" y="404.67" width="4.20" height="4.20" fill="#3ee03e"/>
<polygon points="413.00,371.09 415.62,373.72 413.00,376.34 410.38,373.72" fill="#000"/>
<polygon points="433.80,378.87 436.43,381.49 433.80,384.12 431.18,381.49" fill="#000"/>
<polygon points="455.10,387.98 457.73,390.60 455.10,393.23 452.48,390.60" fill="#000"/>
<polygon points="476.40,400.40 479.02,403.02 476.40,405.65 473.77,403.02" fill="#000"/>
<polygon points="497.10,424.34 499.73,426.96 497.10,429.59 494.48,426.96" fill="#000"/>
<rect x="411.30" y="348.61" width="3.40" height="3.40" fill="#d83ad8"/>
<rect x="432.10" y="354.60" width="3.40" height="3.40" fill="#d83ad8"/>
<rect x="453.40" y="367.64" width="3.40" height="3.40" fill="#d83ad8"/>
<rect x="474.70" y="404.45" width="3.40" height="3.40" fill="#d83ad8"/>
<rect x="495.40" y="432.59" width="3.40" height="3.40" fill="#d83ad8"/>
<rect x="410.90" y="348.21" width="4.20" height="4.20" fill="#d81c28"/>
<rect x="431.70" y="363.76" width="4.20" height="4.20" fill="#d81c28"/>
<rect x="453.00" y="380.20" width="4.20" height="4.20" fill="#d81c28"/>
<rect x="474.30" y="414.50" width="4.20" height="4.20" fill="#d81c28"/>
<rect x="495.00" y="398.33" width="4.20" height="4.20" fill="#d81c28"/>
<text transform="translate(413.00,449.50) scale(0.8,1)" x="0" y="0" font-size="9.0" text-anchor="middle" fill="#2a2a2a">5</text>
<text transform="translate(433.80,449.50) scale(0.8,1)" x="0" y="0" font-size="9.0" text-anchor="middle" fill="#2a2a2a">6</text>
<text transform="translate(455.10,449.50) scale(0.8,1)" x="0" y="0" font-size="9.0" text-anchor="middle" fill="#2a2a2a">7</text>
<text transform="translate(476.40,449.50) scale(0.8,1)" x="0" y="0" font-size="9.0" text-anchor="middle" fill="#2a2a2a">8</text>
<text transform="translate(497.10,449.50) scale(0.8,1)" x="0" y="0" font-size="9.0" text-anchor="middle" fill="#2a2a2a">9</text>
<text x="500.80" y="448.60" font-size="8.1" text-anchor="start" font-weight="bold" fill="#111" >days</text>
<text transform="translate(7.00,374.40) rotate(-90)" font-size="8.6" text-anchor="middle" font-weight="bold" fill="#222">Positive cells (%)</text>
<line x1="464.20" y1="336.20" x2="481.60" y2="336.20" stroke="#222" stroke-width="1.3" />
<polygon points="472.90,333.57 475.52,336.20 472.90,338.82 470.27,336.20" fill="#000"/>
<text transform="translate(482.90,338.50) scale(0.86,1)" x="0" y="0" font-size="7.5" text-anchor="start" fill="#444">donor1</text>
<line x1="464.20" y1="344.00" x2="481.60" y2="344.00" stroke="#cc44cc" stroke-width="1.3" />
<rect x="471.71" y="342.81" width="2.38" height="2.38" fill="#d83ad8"/>
<text transform="translate(482.90,346.30) scale(0.86,1)" x="0" y="0" font-size="7.5" text-anchor="start" fill="#444">donor2</text>
<line x1="464.20" y1="351.70" x2="481.60" y2="351.70" stroke="#4a68c8" stroke-width="1.3" />
<text transform="translate(482.90,354.00) scale(0.86,1)" x="0" y="0" font-size="7.5" text-anchor="start" fill="#444">donor3</text>
<line x1="464.20" y1="359.50" x2="481.60" y2="359.50" stroke="#c8383a" stroke-width="1.3" />
<rect x="470.80" y="357.40" width="4.20" height="4.20" fill="#d81c28"/>
<text transform="translate(482.90,361.80) scale(0.86,1)" x="0" y="0" font-size="7.5" text-anchor="start" fill="#444">donor4</text>
<line x1="464.20" y1="366.90" x2="481.60" y2="366.90" stroke="#3ccc3c" stroke-width="1.3" />
<rect x="470.80" y="364.80" width="4.20" height="4.20" fill="#3ee03e"/>
<text transform="translate(482.90,369.20) scale(0.86,1)" x="0" y="0" font-size="7.5" text-anchor="start" fill="#444">donor5</text>
<line x1="33.80" y1="485.50" x2="235.30" y2="485.50" stroke="#999" stroke-width="1" />
<line x1="235.30" y1="485.50" x2="235.30" y2="691.50" stroke="#999" stroke-width="1" />
<line x1="33.80" y1="485.50" x2="33.80" y2="689.50" stroke="#6a6a6a" stroke-width="1.2" />
<line x1="33.80" y1="689.50" x2="235.30" y2="689.50" stroke="#6a6a6a" stroke-width="1.2" />
<line x1="31.80" y1="689.50" x2="33.80" y2="689.50" stroke="#777" stroke-width="1" />
<text transform="translate(28.80,694.90) scale(0.85,1)" x="0" y="0" font-size="9.2" text-anchor="end" font-weight="bold" fill="#111">0</text>
<line x1="31.80" y1="664.00" x2="33.80" y2="664.00" stroke="#777" stroke-width="1" />
<text transform="translate(28.80,669.40) scale(0.85,1)" x="0" y="0" font-size="9.2" text-anchor="end" font-weight="bold" fill="#111">2</text>
<line x1="31.80" y1="638.50" x2="33.80" y2="638.50" stroke="#777" stroke-width="1" />
<text transform="translate(28.80,643.90) scale(0.85,1)" x="0" y="0" font-size="9.2" text-anchor="end" font-weight="bold" fill="#111">4</text>
<line x1="31.80" y1="613.00" x2="33.80" y2="613.00" stroke="#777" stroke-width="1" />
<text transform="translate(28.80,618.40) scale(0.85,1)" x="0" y="0" font-size="9.2" text-anchor="end" font-weight="bold" fill="#111">6</text>
<line x1="31.80" y1="587.50" x2="33.80" y2="587.50" stroke="#777" stroke-width="1" />
<text transform="translate(28.80,592.90) scale(0.85,1)" x="0" y="0" font-size="9.2" text-anchor="end" font-weight="bold" fill="#111">8</text>
<line x1="31.80" y1="562.00" x2="33.80" y2="562.00" stroke="#777" stroke-width="1" />
<text transform="translate(28.80,567.40) scale(0.85,1)" x="0" y="0" font-size="9.2" text-anchor="end" font-weight="bold" fill="#111">10</text>
<line x1="31.80" y1="536.50" x2="33.80" y2="536.50" stroke="#777" stroke-width="1" />
<text transform="translate(28.80,541.90) scale(0.85,1)" x="0" y="0" font-size="9.2" text-anchor="end" font-weight="bold" fill="#111">12</text>
<line x1="31.80" y1="511.00" x2="33.80" y2="511.00" stroke="#777" stroke-width="1" />
<text transform="translate(28.80,516.40) scale(0.85,1)" x="0" y="0" font-size="9.2" text-anchor="end" font-weight="bold" fill="#111">14</text>
<line x1="31.80" y1="485.50" x2="33.80" y2="485.50" stroke="#777" stroke-width="1" />
<text transform="translate(28.80,490.90) scale(0.85,1)" x="0" y="0" font-size="9.2" text-anchor="end" font-weight="bold" fill="#111">16</text>
<line x1="74.00" y1="689.50" x2="74.00" y2="692.00" stroke="#777" stroke-width="1" />
<line x1="114.20" y1="689.50" x2="114.20" y2="692.00" stroke="#777" stroke-width="1" />
<line x1="154.40" y1="689.50" x2="154.40" y2="692.00" stroke="#777" stroke-width="1" />
<line x1="194.60" y1="689.50" x2="194.60" y2="692.00" stroke="#777" stroke-width="1" />
<text transform="translate(54.30,708.00) scale(0.88,1)" x="0" y="0" font-size="9.2" text-anchor="middle" font-weight="bold" fill="#111">5</text>
<text transform="translate(94.30,708.00) scale(0.88,1)" x="0" y="0" font-size="9.2" text-anchor="middle" font-weight="bold" fill="#111">6</text>
<text transform="translate(134.80,708.00) scale(0.88,1)" x="0" y="0" font-size="9.2" text-anchor="middle" font-weight="bold" fill="#111">7</text>
<text transform="translate(175.00,708.00) scale(0.88,1)" x="0" y="0" font-size="9.2" text-anchor="middle" font-weight="bold" fill="#111">8</text>
<text transform="translate(215.00,708.00) scale(0.88,1)" x="0" y="0" font-size="9.2" text-anchor="middle" font-weight="bold" fill="#111">9</text>
<text x="212.30" y="719.50" font-size="9.6" text-anchor="middle" font-weight="bold" fill="#111" >days</text>
<text transform="translate(12.20,576.50) rotate(-90)" font-size="10.8" text-anchor="middle" font-weight="bold" fill="#111">Normalized x-means</text>
<line x1="54.30" y1="512.27" x2="54.30" y2="591.33" stroke="#808080" stroke-width="1" />
<line x1="52.10" y1="512.27" x2="56.50" y2="512.27" stroke="#808080" stroke-width="1" />
<line x1="52.10" y1="591.33" x2="56.50" y2="591.33" stroke="#808080" stroke-width="1" />
<line x1="54.30" y1="527.58" x2="54.30" y2="576.02" stroke="#808080" stroke-width="1" />
<line x1="52.10" y1="527.58" x2="56.50" y2="527.58" stroke="#808080" stroke-width="1" />
<line x1="52.10" y1="576.02" x2="56.50" y2="576.02" stroke="#808080" stroke-width="1" />
<line x1="94.30" y1="558.17" x2="94.30" y2="628.81" stroke="#808080" stroke-width="1" />
<line x1="92.10" y1="558.17" x2="96.50" y2="558.17" stroke="#808080" stroke-width="1" />
<line x1="92.10" y1="628.81" x2="96.50" y2="628.81" stroke="#808080" stroke-width="1" />
<line x1="94.30" y1="577.30" x2="94.30" y2="606.62" stroke="#808080" stroke-width="1" />
<line x1="92.10" y1="577.30" x2="96.50" y2="577.30" stroke="#808080" stroke-width="1" />
<line x1="92.10" y1="606.62" x2="96.50" y2="606.62" stroke="#808080" stroke-width="1" />
<line x1="134.80" y1="568.76" x2="134.80" y2="636.72" stroke="#808080" stroke-width="1" />
<line x1="132.60" y1="568.76" x2="137.00" y2="568.76" stroke="#808080" stroke-width="1" />
<line x1="132.60" y1="636.72" x2="137.00" y2="636.72" stroke="#808080" stroke-width="1" />
<line x1="134.80" y1="579.85" x2="134.80" y2="636.72" stroke="#808080" stroke-width="1" />
<line x1="132.60" y1="579.85" x2="137.00" y2="579.85" stroke="#808080" stroke-width="1" />
<line x1="132.60" y1="636.72" x2="137.00" y2="636.72" stroke="#808080" stroke-width="1" />
<line x1="175.00" y1="609.56" x2="175.00" y2="665.02" stroke="#808080" stroke-width="1" />
<line x1="172.80" y1="609.56" x2="177.20" y2="609.56" stroke="#808080" stroke-width="1" />
<line x1="172.80" y1="665.02" x2="177.20" y2="665.02" stroke="#808080" stroke-width="1" />
<line x1="175.00" y1="635.95" x2="175.00" y2="640.79" stroke="#808080" stroke-width="1" />
<line x1="172.80" y1="635.95" x2="177.20" y2="635.95" stroke="#808080" stroke-width="1" />
<line x1="172.80" y1="640.79" x2="177.20" y2="640.79" stroke="#808080" stroke-width="1" />
<line x1="215.00" y1="598.21" x2="215.00" y2="649.98" stroke="#808080" stroke-width="1" />
<line x1="212.80" y1="598.21" x2="217.20" y2="598.21" stroke="#808080" stroke-width="1" />
<line x1="212.80" y1="649.98" x2="217.20" y2="649.98" stroke="#808080" stroke-width="1" />
<line x1="215.00" y1="656.35" x2="215.00" y2="667.44" stroke="#808080" stroke-width="1" />
<line x1="212.80" y1="656.35" x2="217.20" y2="656.35" stroke="#808080" stroke-width="1" />
<line x1="212.80" y1="667.44" x2="217.20" y2="667.44" stroke="#808080" stroke-width="1" />
<polyline points="54.30,562.00 94.30,590.05 134.80,602.54 175.00,621.29 215.00,633.02" fill="none" stroke="#222" stroke-width="1.0" stroke-linejoin="round" />
<polyline points="54.30,562.00 94.30,600.25 134.80,612.49 175.00,653.80 215.00,661.71" fill="none" stroke="#222" stroke-width="1.0" stroke-linejoin="round" />
<polyline points="54.30,562.00 94.30,599.49 134.80,591.96 175.00,619.50 215.00,618.23" fill="none" stroke="#111" stroke-width="1.3" stroke-linejoin="round" stroke-dasharray="1.5,2.2"/>
<polyline points="54.30,562.00 94.30,597.70 134.80,615.04 175.00,650.74 215.00,659.28" fill="none" stroke="#111" stroke-width="1.3" stroke-linejoin="round" stroke-dasharray="1.5,2.2"/>
<polygon points="54.30,560.00 56.30,562.00 54.30,564.00 52.30,562.00" fill="#000"/>
<rect x="52.20" y="559.90" width="4.20" height="4.20" fill="#000"/>
<rect x="52.20" y="559.90" width="4.20" height="4.20" fill="#000"/>
<polygon points="54.30,559.96 56.34,563.36 52.26,563.36" fill="#000"/>
<polygon points="94.30,588.05 96.30,590.05 94.30,592.05 92.30,590.05" fill="#000"/>
<rect x="92.20" y="597.38" width="4.20" height="4.20" fill="#000"/>
<rect x="92.20" y="598.15" width="4.20" height="4.20" fill="#000"/>
<polygon points="94.30,595.66 96.34,599.06 92.26,599.06" fill="#000"/>
<polygon points="134.80,600.54 136.80,602.54 134.80,604.54 132.80,602.54" fill="#000"/>
<rect x="132.70" y="589.86" width="4.20" height="4.20" fill="#000"/>
<rect x="132.70" y="610.39" width="4.20" height="4.20" fill="#000"/>
<polygon points="134.80,613.00 136.84,616.40 132.76,616.40" fill="#000"/>
<polygon points="175.00,619.29 177.00,621.29 175.00,623.29 173.00,621.29" fill="#000"/>
<rect x="172.90" y="617.40" width="4.20" height="4.20" fill="#000"/>
<rect x="172.90" y="651.70" width="4.20" height="4.20" fill="#000"/>
<polygon points="175.00,648.70 177.04,652.10 172.96,652.10" fill="#000"/>
<polygon points="215.00,631.02 217.00,633.02 215.00,635.02 213.00,633.02" fill="#000"/>
<rect x="212.90" y="616.13" width="4.20" height="4.20" fill="#000"/>
<rect x="212.90" y="659.61" width="4.20" height="4.20" fill="#000"/>
<polygon points="215.00,657.24 217.04,660.64 212.96,660.64" fill="#000"/>
<line x1="142.50" y1="523.80" x2="165.80" y2="523.80" stroke="#444" stroke-width="1" />
<polygon points="154.20,521.92 156.07,523.80 154.20,525.67 152.32,523.80" fill="#000"/>
<text x="168.30" y="528.10" font-size="8.8" text-anchor="start" font-weight="bold" fill="#111" >c-Met</text>
<line x1="142.50" y1="537.30" x2="165.80" y2="537.30" stroke="#222" stroke-width="1.3" stroke-dasharray="1.6,2.8"/>
<rect x="152.00" y="535.50" width="4.00" height="4.00" fill="#000"/>
<text x="166.80" y="540.60" font-size="10.0" text-anchor="start" font-weight="bold" fill="#111" >CD49d</text>
<line x1="52.50" y1="657.00" x2="75.00" y2="657.00" stroke="#333" stroke-width="1" />
<rect x="62.00" y="655.20" width="3.60" height="3.60" fill="#000"/>
<text x="78.80" y="661.50" font-size="8.6" text-anchor="start" font-weight="bold" fill="#111" >PODXL</text>
<line x1="52.50" y1="668.20" x2="75.00" y2="668.20" stroke="#222" stroke-width="1.3" stroke-dasharray="1.6,2.8"/>
<polygon points="63.80,665.84 65.96,669.44 61.64,669.44" fill="#000"/>
<text x="78.80" y="671.70" font-size="10.0" text-anchor="start" font-weight="bold" fill="#111" >CD49f</text>
<text x="248.60" y="476.60" font-size="12.8" text-anchor="start" font-weight="bold" fill="#111" >D</text>
<text x="327.40" y="476.70" font-size="10.0" text-anchor="middle" font-weight="bold" fill="#111" >STRO-1</text>
<text x="451.80" y="476.70" font-size="10.6" text-anchor="middle" font-weight="bold" fill="#111" >GD2</text>
<polyline points="273.30,598.80 274.10,598.77 274.90,598.72 275.70,598.66 276.50,598.61 277.30,598.56 278.10,598.51 278.90,597.12 279.70,594.59 280.50,591.30 281.30,588.12 282.10,585.65 282.90,582.98 283.70,576.95 284.50,568.67 285.30,560.39 286.10,554.31 286.90,544.33 287.70,523.74 288.50,506.46 289.30,495.06 290.10,485.60 290.90,496.52 291.70,506.13 292.50,519.76 293.30,537.79 294.10,551.83 294.90,555.47 295.70,560.45 296.50,565.93 297.30,571.95 298.10,577.89 298.90,582.10 299.70,584.34 300.50,584.92 301.30,585.45 302.10,586.43 302.90,586.89 303.70,587.98 304.50,588.84 305.30,589.45 306.10,589.61 306.90,589.53 307.70,589.79 308.50,589.93 309.30,590.03 310.10,590.13 310.90,590.33 311.70,590.64 312.50,590.97 313.30,591.23 314.10,590.96 314.90,591.06 315.70,591.42 316.50,591.91 317.30,592.28 318.10,592.65 318.90,593.08 319.70,593.74 320.50,594.42 321.30,595.24 322.10,595.86 322.90,596.39 323.70,596.91 324.50,597.35 325.30,597.70 326.10,598.04 326.90,598.26 327.70,598.31 328.50,598.32 329.30,598.31 330.10,598.32 330.90,598.34 331.70,598.34 332.50,598.34 333.30,598.33 334.10,598.34 334.90,598.36 335.70,598.34 336.50,598.34 337.30,598.37 338.10,598.37 338.90,598.37 339.70,598.39 340.50,598.39 341.30,598.41 342.10,598.41 342.90,598.42 343.70,598.44 344.50,598.44 345.30,598.44 346.10,598.44 346.90,598.47 347.70,598.48 348.50,598.48 349.30,598.50 350.10,598.50 350.90,598.50 351.70,598.52 352.50,598.52 353.30,598.54 354.10,598.55 354.90,598.55 355.70,598.57 356.50,598.57 357.30,598.58 358.10,598.60 358.90,598.60 359.70,598.61 360.50,598.61 361.30,598.63 362.10,598.64 362.90,598.65 363.70,598.66 364.50,598.67 365.30,598.67 366.10,598.69 366.90,598.69 367.70,598.70 368.50,598.71 369.30,598.71 370.10,598.72 370.90,598.73 371.70,598.74 372.50,598.74 373.30,598.75 374.10,598.76 374.90,598.76 375.70,598.77 376.50,598.77 377.30,598.78 378.10,598.78 378.90,598.79 379.70,598.79 380.50,598.80" fill="none" stroke="#c4c8cc" stroke-width="0.8" stroke-linejoin="round" />
<polyline points="273.30,598.80 274.10,598.80 274.90,598.79 275.70,598.78 276.50,598.78 277.30,598.77 278.10,598.76 278.90,598.75 279.70,598.74 280.50,598.73 281.30,598.72 282.10,598.71 282.90,598.71 283.70,598.69 284.50,598.67 285.30,598.67 286.10,598.66 286.90,598.65 287.70,598.63 288.50,598.62 289.30,598.60 290.10,598.59 290.90,598.59 291.70,598.57 292.50,598.58 293.30,598.57 294.10,598.54 294.90,598.53 295.70,598.52 296.50,598.53 297.30,598.52 298.10,598.50 298.90,598.48 299.70,598.21 300.50,596.91 301.30,594.97 302.10,592.97 302.90,590.65 303.70,588.76 304.50,586.73 305.30,584.95 306.10,583.38 306.90,577.86 307.70,570.84 308.50,563.53 309.30,557.25 310.10,552.27 310.90,545.51 311.70,536.26 312.50,528.17 313.30,523.46 314.10,516.03 314.90,507.33 315.70,505.13 316.50,510.97 317.30,517.69 318.10,523.19 318.90,526.62 319.70,531.26 320.50,537.87 321.30,544.11 322.10,549.93 322.90,553.40 323.70,555.82 324.50,559.77 325.30,564.35 326.10,569.83 326.90,574.76 327.70,578.78 328.50,582.28 329.30,584.47 330.10,585.73 330.90,587.40 331.70,589.02 332.50,590.60 333.30,591.69 334.10,592.87 334.90,593.20 335.70,593.50 336.50,594.29 337.30,595.29 338.10,595.70 338.90,596.33 339.70,597.10 340.50,597.62 341.30,598.07 342.10,598.29 342.90,598.29 343.70,598.31 344.50,598.32 345.30,598.36 346.10,598.38 346.90,598.34 347.70,598.35 348.50,598.38 349.30,598.40 350.10,598.41 350.90,598.41 351.70,598.42 352.50,598.41 353.30,598.41 354.10,598.44 354.90,598.47 355.70,598.49 356.50,598.49 357.30,598.49 358.10,598.51 358.90,598.52 359.70,598.53 360.50,598.54 361.30,598.54 362.10,598.56 362.90,598.57 363.70,598.57 364.50,598.59 365.30,598.60 366.10,598.63 366.90,598.64 367.70,598.64 368.50,598.65 369.30,598.66 370.10,598.67 370.90,598.68 371.70,598.69 372.50,598.71 373.30,598.72 374.10,598.73 374.90,598.74 375.70,598.75 376.50,598.76 377.30,598.76 378.10,598.77 378.90,598.78 379.70,598.79 380.50,598.79" fill="none" stroke="#e65048" stroke-width="0.9" stroke-linejoin="round" />
<polyline points="273.30,598.80 274.10,598.80 274.90,598.79 275.70,598.79 276.50,598.77 277.30,598.76 278.10,598.76 278.90,598.76 279.70,598.74 280.50,598.74 281.30,598.72 282.10,598.73 282.90,598.69 283.70,598.68 284.50,598.69 285.30,598.66 286.10,598.64 286.90,598.60 287.70,598.58 288.50,598.58 289.30,598.60 290.10,598.57 290.90,598.56 291.70,598.54 292.50,598.56 293.30,598.59 294.10,598.58 294.90,598.52 295.70,598.55 296.50,598.59 297.30,598.56 298.10,598.48 298.90,598.53 299.70,598.42 300.50,597.46 301.30,595.86 302.10,594.00 302.90,592.79 303.70,592.37 304.50,590.75 305.30,589.93 306.10,587.02 306.90,585.36 307.70,585.29 308.50,584.49 309.30,582.34 310.10,580.77 310.90,577.85 311.70,574.48 312.50,572.69 313.30,570.05 314.10,569.78 314.90,567.94 315.70,565.45 316.50,562.67 317.30,559.11 318.10,557.50 318.90,555.03 319.70,555.01 320.50,553.48 321.30,555.01 322.10,554.44 322.90,556.00 323.70,556.08 324.50,554.42 325.30,552.38 326.10,551.09 326.90,550.20 327.70,553.86 328.50,556.57 329.30,562.23 330.10,566.00 330.90,569.28 331.70,570.76 332.50,571.85 333.30,573.47 334.10,575.00 334.90,575.95 335.70,578.38 336.50,579.17 337.30,581.49 338.10,583.42 338.90,584.88 339.70,584.68 340.50,585.68 341.30,587.00 342.10,586.61 342.90,586.30 343.70,587.12 344.50,588.94 345.30,588.05 346.10,587.55 346.90,588.71 347.70,589.90 348.50,590.81 349.30,590.28 350.10,591.78 350.90,590.71 351.70,591.70 352.50,590.63 353.30,590.11 354.10,590.29 354.90,590.35 355.70,591.69 356.50,592.66 357.30,592.37 358.10,594.11 358.90,593.74 359.70,593.20 360.50,593.09 361.30,594.31 362.10,595.37 362.90,594.72 363.70,594.47 364.50,595.68 365.30,595.75 366.10,596.81 366.90,596.98 367.70,597.35 368.50,597.50 369.30,597.95 370.10,598.11 370.90,598.25 371.70,598.39 372.50,598.31 373.30,598.41 374.10,598.37 374.90,598.47 375.70,598.51 376.50,598.60 377.30,598.60 378.10,598.66 378.90,598.70 379.70,598.75 380.50,598.78" fill="none" stroke="#444" stroke-width="1.0" stroke-linejoin="round" />
<polyline points="273.30,598.80 274.10,598.79 274.90,598.79 275.70,598.78 276.50,598.77 277.30,598.76 278.10,598.75 278.90,598.74 279.70,598.74 280.50,598.72 281.30,598.73 282.10,598.70 282.90,598.69 283.70,598.66 284.50,598.67 285.30,598.68 286.10,598.64 286.90,598.64 287.70,598.64 288.50,598.60 289.30,598.58 290.10,598.57 290.90,598.60 291.70,598.54 292.50,598.56 293.30,598.55 294.10,598.53 294.90,598.53 295.70,598.56 296.50,598.50 297.30,598.54 298.10,597.89 298.90,597.14 299.70,596.36 300.50,594.40 301.30,593.79 302.10,593.10 302.90,590.47 303.70,587.87 304.50,586.16 305.30,586.69 306.10,584.44 306.90,585.06 307.70,582.33 308.50,580.72 309.30,576.81 310.10,573.26 310.90,570.90 311.70,566.83 312.50,563.98 313.30,562.78 314.10,561.08 314.90,559.24 315.70,555.75 316.50,549.61 317.30,545.83 318.10,544.90 318.90,542.49 319.70,539.58 320.50,541.50 321.30,543.04 322.10,544.66 322.90,546.52 323.70,549.48 324.50,555.08 325.30,557.81 326.10,560.83 326.90,560.99 327.70,562.97 328.50,564.41 329.30,567.07 330.10,569.18 330.90,572.68 331.70,574.53 332.50,577.92 333.30,580.14 334.10,581.24 334.90,582.95 335.70,584.29 336.50,585.75 337.30,585.52 338.10,585.42 338.90,587.35 339.70,588.47 340.50,589.00 341.30,588.55 342.10,588.37 342.90,588.67 343.70,588.52 344.50,588.41 345.30,589.49 346.10,589.96 346.90,590.69 347.70,590.81 348.50,590.27 349.30,591.69 350.10,592.50 350.90,592.84 351.70,593.17 352.50,593.76 353.30,594.72 354.10,595.04 354.90,594.96 355.70,594.53 356.50,594.46 357.30,594.87 358.10,596.04 358.90,596.17 359.70,596.56 360.50,597.05 361.30,597.41 362.10,598.07 362.90,598.20 363.70,598.30 364.50,598.39 365.30,598.33 366.10,598.38 366.90,598.37 367.70,598.36 368.50,598.37 369.30,598.38 370.10,598.49 370.90,598.54 371.70,598.59 372.50,598.55 373.30,598.60 374.10,598.61 374.90,598.65 375.70,598.67 376.50,598.69 377.30,598.73 378.10,598.73 378.90,598.76 379.70,598.78 380.50,598.79" fill="none" stroke="#4656da" stroke-width="0.9" stroke-linejoin="round" />
<polyline points="400.00,595.30 400.80,595.27 401.60,595.23 402.40,595.19 403.20,595.14 404.00,595.09 404.80,595.05 405.60,595.01 406.40,592.77 407.20,586.05 408.00,577.64 408.80,569.00 409.60,562.30 410.40,557.00 411.20,547.70 412.00,536.31 412.80,524.06 413.60,513.53 414.40,505.72 415.20,498.41 416.00,488.04 416.80,485.89 417.60,495.48 418.40,504.10 419.20,508.53 420.00,514.31 420.80,520.81 421.60,526.62 422.40,530.55 423.20,534.26 424.00,539.67 424.80,546.28 425.60,552.35 426.40,557.51 427.20,560.55 428.00,562.34 428.80,564.61 429.60,566.75 430.40,569.53 431.20,572.63 432.00,575.42 432.80,577.41 433.60,579.08 434.40,579.93 435.20,580.34 436.00,581.07 436.80,582.11 437.60,582.91 438.40,583.73 439.20,584.40 440.00,585.40 440.80,586.73 441.60,587.68 442.40,588.45 443.20,589.26 444.00,590.20 444.80,590.93 445.60,591.30 446.40,591.89 447.20,592.03 448.00,592.17 448.80,592.23 449.60,592.40 450.40,592.58 451.20,592.78 452.00,592.91 452.80,593.13 453.60,593.42 454.40,593.58 455.20,593.79 456.00,594.07 456.80,594.23 457.60,594.40 458.40,594.55 459.20,594.71 460.00,594.78 460.80,594.80 461.60,594.83 462.40,594.81 463.20,594.82 464.00,594.84 464.80,594.85 465.60,594.84 466.40,594.83 467.20,594.85 468.00,594.86 468.80,594.88 469.60,594.88 470.40,594.89 471.20,594.91 472.00,594.93 472.80,594.93 473.60,594.93 474.40,594.95 475.20,594.97 476.00,594.97 476.80,594.99 477.60,595.01 478.40,595.01 479.20,595.02 480.00,595.02 480.80,595.03 481.60,595.05 482.40,595.06 483.20,595.07 484.00,595.08 484.80,595.10 485.60,595.12 486.40,595.11 487.20,595.13 488.00,595.14 488.80,595.15 489.60,595.17 490.40,595.17 491.20,595.18 492.00,595.20 492.80,595.20 493.60,595.21 494.40,595.22 495.20,595.23 496.00,595.24 496.80,595.25 497.60,595.26 498.40,595.26 499.20,595.27 500.00,595.28 500.80,595.28 501.60,595.29 502.40,595.29 503.20,595.30" fill="none" stroke="#c4c8cc" stroke-width="0.8" stroke-linejoin="round" />
<polyline points="400.00,583.90 400.80,588.43 401.60,591.89 402.40,593.56 403.20,590.31 404.00,585.76 404.80,579.42 405.60,575.80 406.40,573.09 407.20,570.38 408.00,565.53 408.80,562.35 409.60,557.99 410.40,554.86 411.20,554.13 412.00,552.99 412.80,551.47 413.60,547.74 414.40,545.42 415.20,544.05 416.00,541.72 416.80,544.73 417.60,545.40 418.40,546.64 419.20,548.08 420.00,548.93 420.80,551.58 421.60,553.24 422.40,555.12 423.20,556.93 424.00,557.82 424.80,559.58 425.60,562.24 426.40,564.55 427.20,567.41 428.00,568.78 428.80,570.55 429.60,571.78 430.40,573.82 431.20,575.26 432.00,577.34 432.80,579.51 433.60,581.74 434.40,582.90 435.20,584.69 436.00,583.87 436.80,585.55 437.60,585.69 438.40,584.70 439.20,585.16 440.00,586.22 440.80,586.69 441.60,587.58 442.40,587.61 443.20,587.68 444.00,589.22 444.80,588.78 445.60,589.57 446.40,590.17 447.20,589.92 448.00,589.44 448.80,590.45 449.60,589.68 450.40,590.42 451.20,588.66 452.00,588.76 452.80,589.34 453.60,588.10 454.40,589.59 455.20,588.28 456.00,588.99 456.80,588.26 457.60,589.83 458.40,589.67 459.20,590.22 460.00,589.70 460.80,589.90 461.60,590.01 462.40,589.07 463.20,588.38 464.00,589.67 464.80,588.51 465.60,589.94 466.40,588.81 467.20,587.97 468.00,587.53 468.80,589.10 469.60,590.32 470.40,589.59 471.20,589.93 472.00,589.16 472.80,590.48 473.60,590.66 474.40,589.62 475.20,589.03 476.00,590.26 476.80,589.61 477.60,591.00 478.40,590.74 479.20,590.64 480.00,591.30 480.80,591.29 481.60,591.75 482.40,591.46 483.20,592.45 484.00,592.19 484.80,592.77 485.60,592.20 486.40,592.74 487.20,593.26 488.00,592.86 488.80,592.32 489.60,592.50 490.40,592.92 491.20,592.76 492.00,593.06 492.80,592.85 493.60,593.15 494.40,593.56 495.20,593.58 496.00,593.83 496.80,593.63 497.60,594.04 498.40,593.87 499.20,594.27 500.00,594.52 500.80,594.63 501.60,594.54 502.40,594.44 503.20,594.44" fill="none" stroke="#e65048" stroke-width="0.9" stroke-linejoin="round" />
<polyline points="400.00,595.30 400.80,595.26 401.60,595.22 402.40,595.12 403.20,595.04 404.00,595.03 404.80,594.95 405.60,594.88 406.40,594.73 407.20,593.61 408.00,591.92 408.80,591.17 409.60,590.19 410.40,586.99 411.20,586.55 412.00,583.25 412.80,582.90 413.60,581.69 414.40,576.84 415.20,573.74 416.00,569.54 416.80,564.78 417.60,562.81 418.40,560.32 419.20,557.01 420.00,556.19 420.80,554.55 421.60,554.81 422.40,552.96 423.20,550.91 424.00,550.95 424.80,550.08 425.60,551.77 426.40,553.89 427.20,554.87 428.00,555.16 428.80,553.93 429.60,554.80 430.40,554.21 431.20,555.55 432.00,554.82 432.80,556.88 433.60,558.37 434.40,560.39 435.20,563.48 436.00,564.91 436.80,566.88 437.60,571.17 438.40,572.59 439.20,575.51 440.00,577.57 440.80,577.46 441.60,576.69 442.40,576.56 443.20,579.12 444.00,578.75 444.80,580.11 445.60,581.41 446.40,581.40 447.20,582.88 448.00,583.25 448.80,584.94 449.60,586.13 450.40,586.71 451.20,586.86 452.00,587.77 452.80,587.86 453.60,587.55 454.40,587.67 455.20,589.51 456.00,589.41 456.80,590.46 457.60,588.56 458.40,590.20 459.20,589.78 460.00,590.41 460.80,590.14 461.60,590.34 462.40,589.22 463.20,590.08 464.00,588.94 464.80,588.68 465.60,587.97 466.40,588.58 467.20,589.23 468.00,588.99 468.80,590.42 469.60,589.08 470.40,589.69 471.20,589.14 472.00,589.79 472.80,590.59 473.60,590.81 474.40,589.32 475.20,589.05 476.00,589.84 476.80,591.19 477.60,589.64 478.40,590.30 479.20,590.84 480.00,591.42 480.80,590.71 481.60,591.44 482.40,591.11 483.20,591.94 484.00,590.59 484.80,591.80 485.60,591.44 486.40,591.31 487.20,590.75 488.00,590.81 488.80,591.71 489.60,592.09 490.40,591.47 491.20,591.50 492.00,591.23 492.80,591.30 493.60,591.49 494.40,591.87 495.20,592.98 496.00,593.60 496.80,593.75 497.60,593.64 498.40,593.74 499.20,594.10 500.00,594.43 500.80,594.56 501.60,594.66 502.40,594.63 503.20,594.81" fill="none" stroke="#4656da" stroke-width="0.9" stroke-linejoin="round" />
<polyline points="400.00,595.30 400.80,595.29 401.60,595.25 402.40,595.24 403.20,595.19 404.00,595.13 404.80,595.16 405.60,595.13 406.40,595.12 407.20,594.98 408.00,595.03 408.80,595.07 409.60,595.08 410.40,595.04 411.20,595.03 412.00,595.02 412.80,594.93 413.60,594.59 414.40,594.44 415.20,594.20 416.00,594.03 416.80,592.82 417.60,593.21 418.40,592.36 419.20,592.86 420.00,590.74 420.80,591.96 421.60,591.88 422.40,589.60 423.20,590.31 424.00,587.87 424.80,586.14 425.60,585.96 426.40,584.64 427.20,584.71 428.00,586.14 428.80,585.77 429.60,585.56 430.40,584.08 431.20,584.67 432.00,584.74 432.80,584.05 433.60,584.43 434.40,583.85 435.20,581.57 436.00,578.86 436.80,579.49 437.60,580.28 438.40,578.48 439.20,578.43 440.00,579.24 440.80,579.46 441.60,576.32 442.40,576.55 443.20,574.62 444.00,573.89 444.80,576.19 445.60,575.64 446.40,576.01 447.20,575.53 448.00,574.92 448.80,574.49 449.60,575.13 450.40,577.74 451.20,578.47 452.00,577.83 452.80,576.98 453.60,577.51 454.40,579.65 455.20,579.78 456.00,580.95 456.80,582.46 457.60,580.80 458.40,582.50 459.20,580.99 460.00,583.46 460.80,581.97 461.60,581.57 462.40,584.12 463.20,583.01 464.00,581.90 464.80,584.01 465.60,583.95 466.40,585.05 467.20,583.60 468.00,583.30 468.80,584.97 469.60,584.01 470.40,585.46 471.20,582.99 472.00,584.32 472.80,582.31 473.60,582.76 474.40,580.88 475.20,580.64 476.00,583.60 476.80,583.12 477.60,584.30 478.40,582.65 479.20,582.24 480.00,581.02 480.80,582.22 481.60,584.06 482.40,583.59 483.20,582.80 484.00,584.61 484.80,585.38 485.60,584.86 486.40,582.23 487.20,583.11 488.00,582.83 488.80,584.75 489.60,583.32 490.40,583.81 491.20,583.93 492.00,582.97 492.80,583.07 493.60,583.74 494.40,585.00 495.20,583.99 496.00,582.95 496.80,584.88 497.60,582.17 498.40,583.92 499.20,584.20 500.00,583.83 500.80,583.20 501.60,584.11 502.40,585.12 503.20,584.97" fill="none" stroke="#444" stroke-width="0.9" stroke-linejoin="round" />
<rect x="272.70" y="484.20" width="109.10" height="115.30" fill="none" stroke="#a8a8a8" stroke-width="1"/>
<rect x="399.40" y="483.50" width="104.50" height="112.50" fill="none" stroke="#a8a8a8" stroke-width="1"/>
<text transform="translate(260.80,540.70) rotate(-90)" font-size="10.6" text-anchor="middle" font-weight="bold" fill="#111">Cell numbers</text>
<line x1="461.40" y1="489.00" x2="473.50" y2="489.00" stroke="#c8ccd4" stroke-width="1.2" />
<text transform="translate(474.80,491.30) scale(0.95,1)" x="0" y="0" font-size="7.6" text-anchor="start" font-weight="bold" fill="#222">Isotype</text>
<line x1="461.40" y1="498.12" x2="473.50" y2="498.12" stroke="#c84040" stroke-width="1.6" />
<text transform="translate(474.80,500.42) scale(0.95,1)" x="0" y="0" font-size="7.6" text-anchor="start" font-weight="bold" fill="#222">5 days</text>
<line x1="461.40" y1="507.24" x2="473.50" y2="507.24" stroke="#3838c0" stroke-width="1.6" />
<text transform="translate(474.80,509.54) scale(0.95,1)" x="0" y="0" font-size="7.6" text-anchor="start" font-weight="bold" fill="#222">7 days</text>
<line x1="461.40" y1="516.36" x2="473.50" y2="516.36" stroke="#000" stroke-width="1.6" />
<text transform="translate(474.80,518.66) scale(0.95,1)" x="0" y="0" font-size="7.6" text-anchor="start" font-weight="bold" fill="#222">9 days</text>
<text x="324.00" y="612.20" font-size="8.2" text-anchor="middle" font-weight="bold" fill="#111" >FL1</text>
<text x="451.30" y="610.20" font-size="8.2" text-anchor="middle" font-weight="bold" fill="#111" >FL1</text>
<text x="252.00" y="605.80" font-size="12.0" text-anchor="start" font-weight="bold" fill="#111" >E</text>
<text transform="translate(257.10,650.60) rotate(-90)" font-size="10.7" text-anchor="middle" font-weight="bold" fill="#111">X-means</text>
<line x1="272.90" y1="615.40" x2="377.70" y2="615.40" stroke="#999" stroke-width="1" />
<line x1="377.70" y1="615.40" x2="377.70" y2="726.70" stroke="#999" stroke-width="1" />
<line x1="272.90" y1="615.40" x2="272.90" y2="726.70" stroke="#555" stroke-width="1.2" />
<line x1="272.90" y1="726.70" x2="377.70" y2="726.70" stroke="#555" stroke-width="1.2" />
<text transform="translate(267.30,729.60) scale(0.72,1)" x="0" y="0" font-size="8.2" text-anchor="end" fill="#333">0</text>
<text transform="translate(267.30,707.34) scale(0.72,1)" x="0" y="0" font-size="8.2" text-anchor="end" fill="#333">40</text>
<text transform="translate(267.30,685.08) scale(0.72,1)" x="0" y="0" font-size="8.2" text-anchor="end" fill="#333">80</text>
<text transform="translate(267.30,662.82) scale(0.72,1)" x="0" y="0" font-size="8.2" text-anchor="end" fill="#333">120</text>
<text transform="translate(267.30,640.56) scale(0.72,1)" x="0" y="0" font-size="8.2" text-anchor="end" fill="#333">160</text>
<text transform="translate(267.30,618.30) scale(0.72,1)" x="0" y="0" font-size="8.2" text-anchor="end" fill="#333">200</text>
<line x1="402.20" y1="615.00" x2="504.40" y2="615.00" stroke="#999" stroke-width="1" />
<line x1="504.40" y1="615.00" x2="504.40" y2="725.40" stroke="#999" stroke-width="1" />
<line x1="402.20" y1="615.00" x2="402.20" y2="725.40" stroke="#555" stroke-width="1.2" />
<line x1="402.20" y1="725.40" x2="504.40" y2="725.40" stroke="#555" stroke-width="1.2" />
<text transform="translate(396.90,728.00) scale(0.86,1)" x="0" y="0" font-size="8.5" text-anchor="end" fill="#333">0</text>
<text transform="translate(396.90,705.92) scale(0.86,1)" x="0" y="0" font-size="8.5" text-anchor="end" fill="#333">500</text>
<text transform="translate(396.90,683.84) scale(0.86,1)" x="0" y="0" font-size="8.5" text-anchor="end" fill="#333">1000</text>
<text transform="translate(396.90,661.76) scale(0.86,1)" x="0" y="0" font-size="8.5" text-anchor="end" fill="#333">1500</text>
<text transform="translate(396.90,639.68) scale(0.86,1)" x="0" y="0" font-size="8.5" text-anchor="end" fill="#333">2000</text>
<text transform="translate(396.90,617.60) scale(0.86,1)" x="0" y="0" font-size="8.5" text-anchor="end" fill="#333">2500</text>
<polyline points="290.90,672.72 325.90,642.33 360.40,625.97" fill="none" stroke="#d83030" stroke-width="1.1" stroke-linejoin="round" />
<polyline points="290.90,696.98 325.90,682.74 360.40,675.39" fill="none" stroke="#3a5ad8" stroke-width="1.1" stroke-linejoin="round" />
<rect x="288.60" y="670.42" width="4.60" height="4.60" fill="#e01020"/>
<rect x="323.60" y="640.03" width="4.60" height="4.60" fill="#e01020"/>
<rect x="358.10" y="623.67" width="4.60" height="4.60" fill="#e01020"/>
<polygon points="290.90,694.11 293.77,696.98 290.90,699.86 288.02,696.98" fill="#3a5ad8"/>
<polygon points="325.90,679.86 328.77,682.74 325.90,685.61 323.02,682.74" fill="#3a5ad8"/>
<polygon points="360.40,672.52 363.27,675.39 360.40,678.27 357.52,675.39" fill="#3a5ad8"/>
<polyline points="419.60,715.24 453.50,704.51 487.70,636.11" fill="none" stroke="#4a6ae0" stroke-width="0.9" stroke-linejoin="round" />
<polyline points="419.60,716.04 453.50,701.82 487.70,665.70" fill="none" stroke="#d83030" stroke-width="1.3" stroke-linejoin="round" />
<polygon points="419.60,712.37 422.48,715.24 419.60,718.12 416.73,715.24" fill="#3a5ad8"/>
<polygon points="453.50,701.64 456.38,704.51 453.50,707.39 450.62,704.51" fill="#3a5ad8"/>
<polygon points="487.70,633.23 490.57,636.11 487.70,638.98 484.82,636.11" fill="#3a5ad8"/>
<rect x="417.30" y="713.74" width="4.60" height="4.60" fill="#e01020"/>
<rect x="451.20" y="699.52" width="4.60" height="4.60" fill="#e01020"/>
<rect x="485.40" y="663.40" width="4.60" height="4.60" fill="#e01020"/>
<text transform="translate(290.90,741.70) scale(0.75,1)" x="0" y="0" font-size="9.2" text-anchor="middle" fill="#2a2a2a">5</text>
<text transform="translate(325.90,741.70) scale(0.75,1)" x="0" y="0" font-size="9.2" text-anchor="middle" fill="#2a2a2a">7</text>
<text transform="translate(360.40,741.70) scale(0.75,1)" x="0" y="0" font-size="9.2" text-anchor="middle" fill="#2a2a2a">9</text>
<text x="366.50" y="742.00" font-size="8.5" text-anchor="start" font-weight="bold" fill="#111" >days</text>
<text transform="translate(419.60,740.20) scale(0.75,1)" x="0" y="0" font-size="9.2" text-anchor="middle" fill="#2a2a2a">5</text>
<text transform="translate(453.50,740.20) scale(0.75,1)" x="0" y="0" font-size="9.2" text-anchor="middle" fill="#2a2a2a">7</text>
<text transform="translate(487.70,740.20) scale(0.75,1)" x="0" y="0" font-size="9.2" text-anchor="middle" fill="#2a2a2a">9</text>
<text x="492.20" y="740.50" font-size="8.5" text-anchor="start" font-weight="bold" fill="#111" >days</text>
<line x1="405.60" y1="623.40" x2="424.40" y2="623.40" stroke="#3a5ad8" stroke-width="1.3" />
<polygon points="415.00,621.15 417.25,623.40 415.00,625.65 412.75,623.40" fill="#3a5ad8"/>
<text transform="translate(427.00,625.80) scale(0.87,1)" x="0" y="0" font-size="8.6" text-anchor="start" fill="#333">donor 1</text>
<line x1="405.60" y1="631.50" x2="424.40" y2="631.50" stroke="#d83030" stroke-width="1.3" />
<rect x="412.80" y="629.30" width="4.40" height="4.40" fill="#e01020"/>
<text transform="translate(427.00,633.90) scale(0.87,1)" x="0" y="0" font-size="8.6" text-anchor="start" fill="#333">donor&#160;&#160;7</text>
</svg>
</body></html>
